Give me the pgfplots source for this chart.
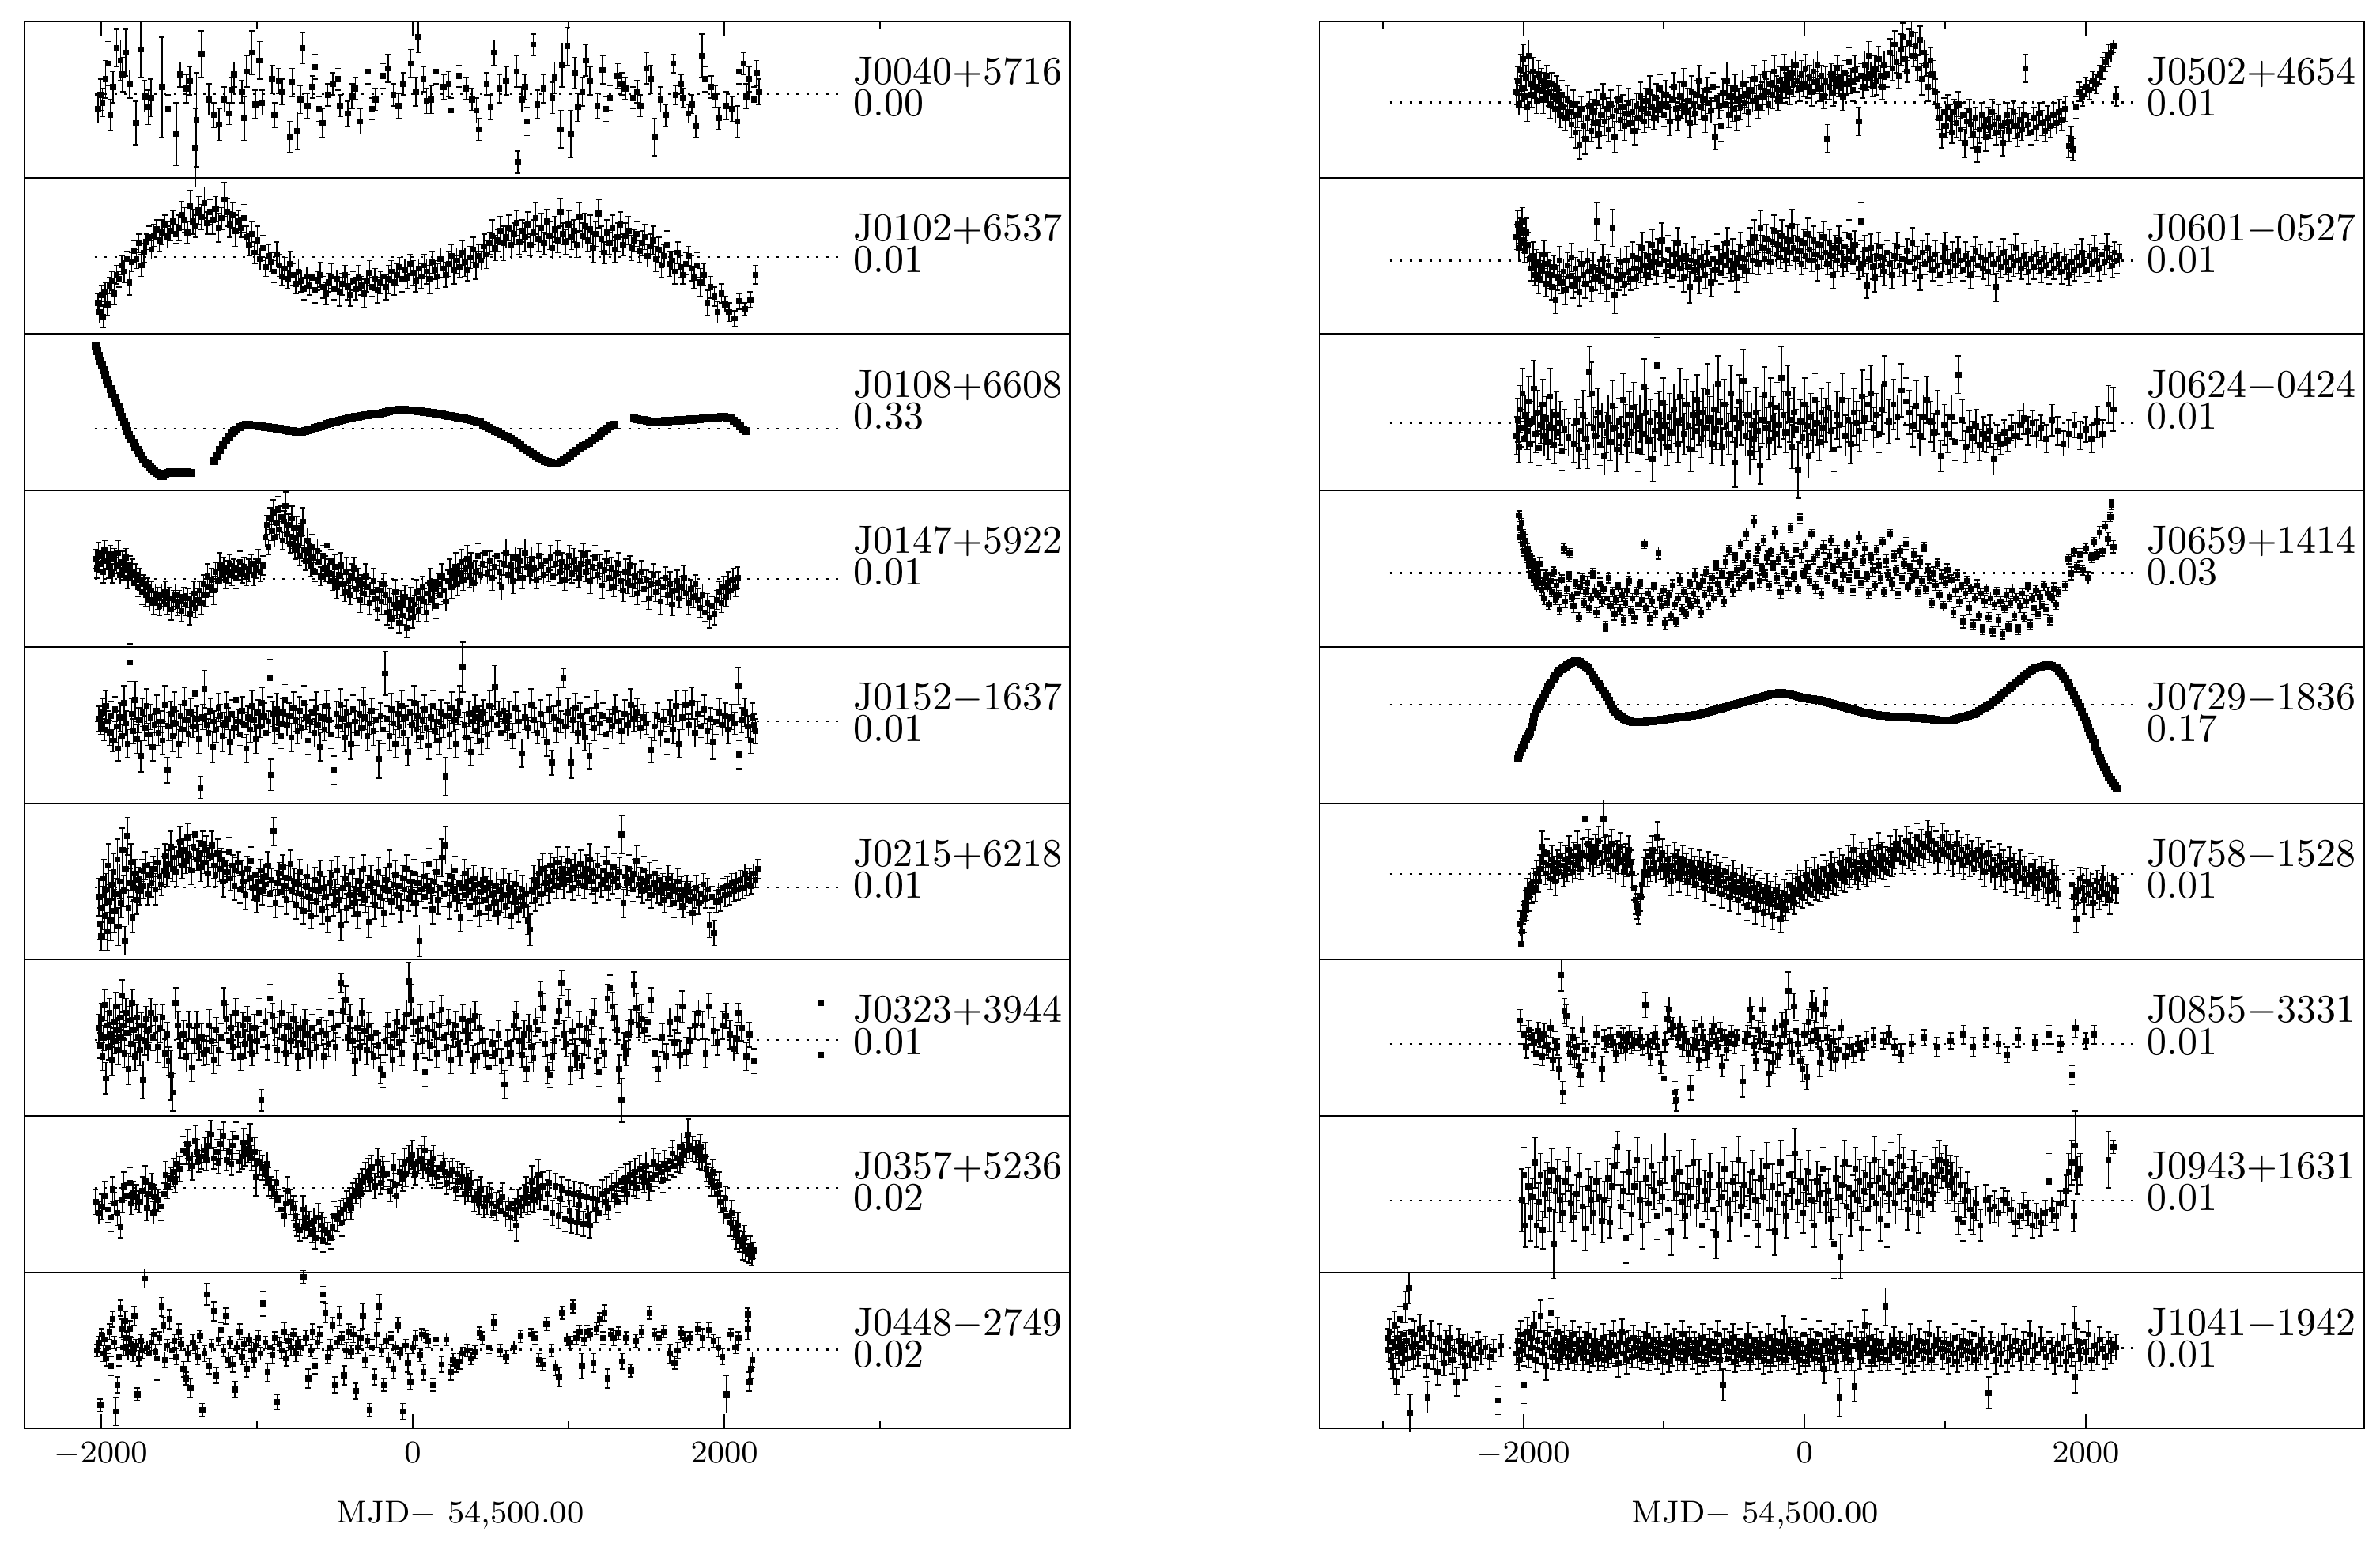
\documentclass[border=0pt]{standalone}
\usepackage{pgfplots}
\pgfplotsset{compat=1.18}
% one plot mark = error bar with caps + filled square (cheap on memory)
\newdimen\eblen
\pgfdeclareplotmark{eb}{%
  \pgfpathmoveto{\pgfqpoint{0pt}{-\eblen}}\pgfpathlineto{\pgfqpoint{0pt}{\eblen}}%
  \pgfpathmoveto{\pgfqpoint{-0.7pt}{-\eblen}}\pgfpathlineto{\pgfqpoint{0.7pt}{-\eblen}}%
  \pgfpathmoveto{\pgfqpoint{-0.7pt}{\eblen}}\pgfpathlineto{\pgfqpoint{0.7pt}{\eblen}}%
  \pgfusepathqstroke
  \pgfpathrectangle{\pgfqpoint{-0.75pt}{-0.75pt}}{\pgfqpoint{1.5pt}{1.5pt}}%
  \pgfusepathqfill}
\pgfplotsset{
  res/.style={scatter, only marks, mark=eb, black, line width=0.3pt,
    scatter/use mapped color={},
    visualization depends on=value \thisrow{e}\as\perr,
    scatter/@pre marker code/.append code={\pgfmathsetlength\eblen{0.3954pt*\perr}}},
  crv/.style={only marks, mark=square*, mark size=0.8pt, black},
  zero/.style={black, line width=0.45pt, dash pattern=on 0.6pt off 1.9pt, forget plot},
  pan/.style={width=264.3pt, height=39.54pt, scale only axis, anchor=north west,
    ymin=0, ymax=100, ytick=\empty, xtick={-2000,0,2000},
    axis line style={line width=0.4pt},
    major tick length=3.6pt, minor tick length=1.9pt,
    tick style={black, line width=0.4pt},
    tick label style={font=\fontsize{8.5}{8.5}\selectfont},
    x tick label style={/pgf/number format/.cd, 1000 sep={}},
    clip mode=individual},
  colL/.style={xmin=-2490, xmax=4213, minor xtick={-1000,1000,3000}},
  colR/.style={xmin=-3451, xmax=3980, minor xtick={-3000,-1000,1000}},
  rowT/.style={xtick pos=right, xticklabels={}},
  rowM/.style={xtick=\empty, minor xtick=\empty},
  rowB/.style={xtick pos=left},
}
\tikzset{lab/.style={font=\fontsize{10}{10}\selectfont, inner sep=0pt, anchor=base west}}
% panel names: name baseline at 59.7, scale value at 39.4 (percent of panel height)
\newcommand{\labL}[2]{\node[lab] at (axis cs:2822,59.7) {#1}; \node[lab] at (axis cs:2822,39.4) {#2};}
\newcommand{\labR}[2]{\node[lab] at (axis cs:2430,59.7) {#1}; \node[lab] at (axis cs:2430,39.4) {#2};}
\newcommand{\mjd}{\node[font=\fontsize{8}{8}\selectfont, anchor=base, yshift=-23.8pt] at (rel axis cs:0.417,0) {MJD$-$ 54,500.00};}
\begin{document}
\begin{tikzpicture}
\path[use as bounding box] (-6.2pt,5.4pt) rectangle (595.8pt,-385.66pt);
%% ---------------- row 1 ----------------
\begin{axis}[pan, colL, rowT, at={(0pt,0pt)}]
\addplot[zero] coordinates {(-2040,53.5) (2756,53.5)};
\addplot[res] table[row sep=\\] {x y e\\
-2019 44 9\\ -2003 53 10\\ -1970 63 12\\ -1954 73 14\\ -1922 58 10\\ -1899 83 12\\ -1873 75 13\\ -1841 80 15\\ -1815 60 9\\ -1776 35 14\\
-1744 82 18\\ -1695 45 11\\ -1679 51 12\\ -1608 58 32\\ -1517 28 20\\ -1491 66 8\\ -1452 57 9\\ -1394 19 25\\ -1388 37 30\\ -1355 79 15\\
-1307 50 10\\ -1274 40 8\\ -1242 34 10\\ -1210 50 8\\ -1177 41 7\\ -1145 66 8\\ -1096 55 7\\ -1080 38 14\\ -1064 68 10\\ -1031 80 14\\
-983 75 12\\ -967 48 8\\ -902 63 9\\ -886 40 8\\ -837 55 8\\ -789 26 10\\ -773 61 9\\ -740 30 12\\ -708 83 10\\ -675 46 8\\
-643 58 7\\ -627 71 8\\ -578 35 9\\ -546 53 7\\ -513 60 7\\ -465 46 7\\ -416 41 8\\ -368 57 7\\ -336 36 8\\ -287 68 8\\
-238 50 7\\ -190 65 8\\ -157 70 9\\ -125 53 7\\ -60 60 7\\ -12 73 9\\ 37 90 10\\ 69 63 8\\ 118 50 9\\ 150 68 8\\
199 58 8\\ 247 43 8\\ 296 65 7\\ 344 57 7\\ 409 43 8\\ 425 31 7\\ 474 60 7\\ 522 80 8\\ 555 57 9\\ 668 68 10\\
674 10 7\\ 700 50 8\\ 733 36 9\\ 775 85 7\\ 840 57 9\\ 895 51 10\\ 950 31 12\\ 959 72 14\\ 992 84 12\\ 1014 28 15\\
1040 67 10\\ 1089 55 9\\ 1137 62 9\\ 1186 46 8\\ 1218 69 9\\ 1267 51 8\\ 1315 65 8\\ 1364 57 7\\ 1412 51 7\\ 1461 46 7\\
1500 70 10\\ 1526 63 9\\ 1552 26 12\\ 1591 50 8\\ 1623 40 7\\ 1671 73 6\\ 1688 53 6\\ 1736 51 6\\ 1769 41 6\\ 1817 33 7\\
1856 78 14\\ 1875 63 8\\ 1914 58 7\\ 1963 38 7\\ 2011 46 9\\ 2083 36 10\\ 2092 68 8\\ 2124 73 7\\ 2157 63 8\\ 2189 50 8\\
2206 67 8\\ 2222 55 8\\
-1990 48 9\\ -1940 40 10\\ -1860 66 11\\ -1720 52 10\\ -1570 44 9\\ -1430 62 9\\ -1160 56 8\\ -1010 47 9\\ -860 62 8\\ -720 50 9\\
-600 44 8\\ -480 63 7\\ -390 52 8\\ -260 44 7\\ -90 46 8\\ 20 55 9\\ 90 49 8\\ 230 60 8\\ 380 50 7\\ 500 45 8\\
600 62 9\\ 720 58 8\\ 800 47 9\\ 910 64 10\\ 1060 45 9\\ 1110 75 10\\ 1240 44 8\\ 1340 60 7\\ 1440 55 7\\ 1720 60 6\\
1790 47 6\\ 1940 52 7\\ 2050 44 8\\ 2140 52 8\\
};
\labL{J0040+5716}{0.00}
\end{axis}
\begin{axis}[pan, colR, rowT, at={(327.5pt,0pt)}]
\addplot[zero] coordinates {(-2950,48.1) (2343,48.1)};
\addplot[res] table[row sep=\\] {x y e\\
-2048 55 8\\ -2040 62 9\\ -2030 47 7\\ -2020 69 10\\ -2012 57 8\\ -2002 76 9\\ -1992 52 7\\ -1982 64 8\\ -1972 45 9\\ -1961 78 10\\
-1950 60 7\\ -1940 53 8\\ -1930 68 9\\ -1918 58 7\\ -1906 49 8\\ -1894 66 9\\ -1882 56 7\\ -1870 62 8\\ -1858 50 9\\ -1846 59 8\\
-1834 65 7\\ -1822 54 8\\ -1810 47 9\\ -1798 60 7\\ -1786 52 8\\ -1774 44 9\\ -1762 57 8\\ -1750 49 7\\ -1738 40 8\\ -1726 53 9\\
-1714 45 7\\ -1700 38 8\\ -1686 50 9\\ -1672 42 7\\ -1658 34 8\\ -1644 47 9\\ -1630 29 10\\ -1616 40 8\\ -1602 21 9\\ -1588 44 8\\
-1574 33 7\\ -1560 25 10\\ -1546 38 8\\ -1532 46 9\\ -1518 30 7\\ -1504 42 8\\ -1490 35 9\\ -1476 48 8\\ -1462 28 9\\ -1448 40 7\\
-1434 52 8\\ -1420 36 9\\ -1406 44 7\\ -1392 31 8\\ -1378 47 9\\ -1364 39 7\\ -1350 26 10\\ -1336 43 8\\ -1322 50 9\\ -1308 37 7\\
-1294 45 8\\ -1280 33 9\\ -1266 41 8\\ -1252 48 9\\ -1238 35 7\\ -1224 42 8\\ -1210 30 9\\ -1196 46 8\\ -1182 38 7\\ -1168 52 9\\
-1154 44 8\\ -1140 36 7\\ -1126 49 8\\ -1112 41 9\\ -1098 55 10\\ -1084 45 8\\ -1070 38 7\\ -1056 51 9\\ -1042 43 8\\ -1028 57 9\\
-1014 47 8\\ -1000 40 7\\ -986 53 9\\ -972 45 8\\ -958 36 9\\ -944 50 8\\ -930 58 9\\ -916 44 7\\ -902 38 8\\ -888 52 9\\
-874 46 8\\ -860 60 10\\ -846 42 7\\ -832 49 8\\ -818 35 9\\ -804 55 10\\ -790 47 8\\ -776 41 7\\ -762 53 9\\ -748 62 10\\
-734 45 8\\ -720 50 7\\ -706 38 9\\ -692 56 8\\ -678 48 7\\ -664 43 8\\ -650 58 9\\ -636 26 8\\ -622 51 7\\ -608 46 8\\
-594 33 10\\ -580 54 9\\ -566 47 7\\ -552 62 12\\ -538 40 8\\ -524 52 7\\ -510 44 8\\ -496 57 9\\ -482 38 8\\ -468 50 7\\
-454 45 8\\ -440 60 9\\ -426 48 7\\ -412 53 8\\ -398 42 9\\ -384 56 8\\ -370 49 7\\ -356 63 9\\ -342 51 8\\ -328 45 7\\
-314 58 8\\ -300 52 9\\ -286 66 9\\ -272 55 8\\ -258 47 7\\ -244 60 8\\ -230 53 9\\ -216 68 10\\ -202 57 8\\ -188 50 7\\
-174 62 9\\ -160 56 8\\ -146 70 9\\ -132 59 8\\ -118 64 7\\ -104 55 8\\ -90 67 9\\ -76 60 8\\ -62 72 9\\ -48 62 7\\
-34 57 8\\ -20 66 9\\ -6 60 8\\ 8 70 9\\ 22 58 7\\ 36 64 8\\ 50 55 9\\ 64 68 8\\ 78 61 7\\ 92 72 9\\
106 57 8\\ 120 65 7\\ 134 52 8\\ 148 62 9\\ 162 25 9\\ 176 58 8\\ 190 66 7\\ 204 54 8\\ 218 63 9\\ 232 70 8\\
246 59 7\\ 260 64 8\\ 274 52 9\\ 288 67 8\\ 302 60 7\\ 316 74 9\\ 330 62 8\\ 344 56 7\\ 358 69 9\\ 372 63 8\\
386 36 9\\ 400 65 8\\ 414 58 7\\ 428 72 9\\ 442 64 8\\ 456 78 9\\ 470 66 8\\ 484 59 7\\ 498 70 8\\ 512 62 9\\
526 76 8\\ 540 65 7\\ 554 58 8\\ 568 72 9\\ 586 66 8\\ 610 80 9\\ 625 70 8\\ 640 85 9\\ 655 74 7\\ 670 65 8\\
685 82 10\\ 700 90 9\\ 715 76 8\\ 730 68 7\\ 745 86 9\\ 760 92 8\\ 775 78 7\\ 790 84 9\\ 805 70 8\\ 820 88 9\\
835 63 10\\ 850 80 8\\ 865 72 7\\ 880 58 9\\ 895 75 8\\ 910 66 9\\ 928 55 8\\ 945 46 9\\ 960 38 7\\ 976 27 8\\
990 42 9\\ 1005 33 7\\ 1020 45 8\\ 1035 38 9\\ 1050 29 7\\ 1065 42 8\\ 1080 35 9\\ 1095 47 8\\ 1110 31 7\\ 1125 40 8\\
1140 22 9\\ 1155 36 8\\ 1170 43 7\\ 1185 34 8\\ 1200 28 9\\ 1215 38 7\\ 1230 18 8\\ 1245 31 9\\ 1260 40 8\\ 1275 33 7\\
1290 26 9\\ 1305 37 8\\ 1320 32 7\\ 1335 42 8\\ 1350 34 7\\ 1365 29 8\\ 1380 38 9\\ 1395 33 7\\ 1410 22 8\\ 1425 35 7\\
1440 40 8\\ 1455 30 7\\ 1470 36 8\\ 1485 42 7\\ 1500 33 8\\ 1515 27 7\\ 1530 37 8\\ 1545 31 7\\ 1560 40 8\\ 1571 70 9\\
1590 34 7\\ 1610 29 8\\ 1630 38 7\\ 1650 32 8\\ 1670 41 7\\ 1690 35 8\\ 1710 30 7\\ 1730 38 8\\ 1750 33 7\\ 1770 40 8\\
1790 35 7\\ 1810 42 8\\ 1830 37 7\\ 1855 44 8\\ 1880 20 7\\ 1895 25 8\\ 1910 18 7\\ 1930 45 7\\ 1952 55 6\\ 1975 52 6\\
2000 58 6\\ 2025 56 6\\ 2050 62 6\\ 2075 60 6\\ 2100 66 6\\ 2120 70 7\\ 2140 74 6\\ 2160 78 7\\ 2180 80 6\\ 2196 84 4\\
2215 52 6\\
};
\labR{J0502+4654}{0.01}
\end{axis}
%% ---------------- row 2 ----------------
\begin{axis}[pan, colL, rowM, at={(0pt,-39.54pt)}]
\addplot[zero] coordinates {(-2040,49.3) (2756,49.3)};
\addplot[res] table[row sep=\\] {x y e\\
-2019 20 6\\ -2008 14 7\\ -1996 25 6\\ -1985 11 7\\ -1972 27 6\\ -1958 19 7\\ -1944 31 5\\ -1930 34 6\\ -1915 26 7\\ -1900 38 6\\
-1884 35 5\\ -1866 44 6\\ -1850 40 7\\ -1833 48 5\\ -1818 33 8\\ -1802 46 6\\ -1788 53 7\\ -1772 48 6\\ -1756 58 6\\ -1740 44 7\\
-1724 52 6\\ -1708 59 5\\ -1692 62 7\\ -1676 54 6\\ -1660 63 7\\ -1642 67 6\\ -1625 60 7\\ -1608 65 8\\ -1590 70 6\\ -1572 62 7\\
-1555 66 6\\ -1537 72 7\\ -1518 64 6\\ -1500 68 8\\ -1482 76 9\\ -1464 73 8\\ -1446 65 7\\ -1428 82 10\\ -1410 72 8\\ -1392 69 7\\
-1374 79 9\\ -1355 75 8\\ -1336 84 10\\ -1318 71 7\\ -1300 78 8\\ -1282 73 9\\ -1263 80 8\\ -1245 68 9\\ -1226 74 7\\ -1208 86 11\\
-1190 78 9\\ -1172 70 8\\ -1155 76 8\\ -1137 66 10\\ -1118 72 7\\ -1100 68 6\\ -1083 74 9\\ -1066 62 7\\ -1049 57 7\\ -1031 64 8\\
-1013 52 7\\ -996 60 9\\ -978 48 7\\ -960 55 8\\ -942 43 6\\ -925 50 7\\ -907 46 6\\ -890 40 7\\ -872 51 8\\ -855 44 7\\
-837 37 6\\ -820 42 7\\ -802 35 6\\ -785 45 8\\ -767 38 7\\ -750 32 6\\ -732 40 8\\ -715 34 7\\ -697 29 7\\ -680 37 6\\
-662 31 6\\ -645 36 7\\ -627 28 8\\ -610 34 6\\ -592 38 8\\ -575 30 7\\ -557 26 7\\ -540 33 6\\ -522 37 8\\ -505 29 7\\
-487 35 6\\ -470 27 9\\ -452 32 7\\ -435 38 6\\ -417 30 8\\ -400 25 7\\ -382 34 6\\ -365 29 7\\ -347 36 8\\ -330 31 6\\
-312 26 9\\ -295 34 7\\ -277 39 8\\ -260 30 6\\ -242 35 7\\ -225 28 8\\ -207 33 7\\ -190 37 6\\ -172 30 8\\ -155 35 9\\
-137 40 7\\ -120 33 8\\ -102 38 7\\ -85 43 6\\ -67 35 8\\ -50 41 7\\ -32 36 7\\ -15 45 6\\ 3 39 8\\ 20 34 7\\
38 42 6\\ 55 37 8\\ 73 44 7\\ 90 40 8\\ 108 35 9\\ 125 46 7\\ 143 41 6\\ 160 37 8\\ 178 48 7\\ 195 42 6\\
213 38 8\\ 230 45 8\\ 248 50 7\\ 265 41 9\\ 283 47 8\\ 300 43 7\\ 318 52 8\\ 335 46 9\\ 353 41 7\\ 370 49 7\\
388 54 8\\ 405 44 9\\ 423 50 7\\ 440 47 6\\ 458 56 8\\ 475 51 9\\ 493 58 7\\ 510 63 10\\ 528 55 8\\ 545 60 7\\
563 66 9\\ 580 58 11\\ 598 62 7\\ 615 68 8\\ 633 57 9\\ 650 64 7\\ 668 71 8\\ 685 59 8\\ 703 66 7\\ 720 62 9\\
738 70 8\\ 755 57 7\\ 773 65 8\\ 790 74 10\\ 808 61 8\\ 825 68 9\\ 843 58 7\\ 860 72 8\\ 878 63 9\\ 895 55 7\\
913 67 8\\ 930 60 8\\ 948 78 9\\ 965 64 7\\ 983 59 8\\ 1000 70 9\\ 1018 62 8\\ 1035 66 7\\ 1053 57 8\\ 1070 75 9\\
1088 63 8\\ 1105 69 8\\ 1123 60 7\\ 1140 67 9\\ 1158 55 9\\ 1175 64 8\\ 1193 77 9\\ 1210 61 8\\ 1228 52 7\\ 1245 65 8\\
1263 58 7\\ 1280 68 8\\ 1298 54 8\\ 1315 62 9\\ 1333 70 8\\ 1350 57 7\\ 1368 63 8\\ 1385 66 9\\ 1403 55 8\\ 1420 60 7\\
1438 64 8\\ 1455 53 7\\ 1473 58 8\\ 1490 62 8\\ 1508 50 7\\ 1525 56 8\\ 1543 60 9\\ 1560 48 8\\ 1578 54 8\\ 1595 44 8\\
1613 50 7\\ 1630 57 9\\ 1648 45 8\\ 1665 47 6\\ 1683 40 8\\ 1700 52 7\\ 1718 43 7\\ 1735 38 6\\ 1753 45 7\\ 1770 50 6\\
1788 42 8\\ 1805 36 7\\ 1825 44 8\\ 1845 33 9\\ 1866 38 7\\ 1890 20 8\\ 1910 30 7\\ 1935 24 6\\ 1955 14 7\\ 1980 26 6\\
2005 19 5\\ 2030 14 6\\ 2065 10 5\\ 2095 21 5\\ 2130 16 4\\ 2165 22 5\\ 2200 38 6\\
};
\labL{J0102+6537}{0.01}
\end{axis}
\begin{axis}[pan, colR, rowM, at={(327.5pt,-39.54pt)}]
\addplot[zero] coordinates {(-2950,47) (2343,47)};
\addplot[res] table[row sep=\\] {x y e\\
-2048 62 8\\ -2040 70 9\\ -2032 55 7\\ -2024 66 8\\ -2016 58 10\\ -2008 72 9\\ -2000 60 8\\ -1990 53 7\\ -1980 65 9\\ -1968 57 8\\
-1955 48 7\\ -1942 42 8\\ -1930 50 9\\ -1918 38 7\\ -1905 46 8\\ -1892 35 9\\ -1880 44 8\\ -1866 40 7\\ -1852 51 9\\ -1840 32 8\\
-1826 45 7\\ -1812 38 9\\ -1798 30 8\\ -1784 43 7\\ -1770 22 9\\ -1756 36 8\\ -1742 47 9\\ -1728 33 7\\ -1714 40 8\\ -1700 28 9\\
-1686 44 8\\ -1672 37 7\\ -1658 49 9\\ -1644 31 8\\ -1630 42 7\\ -1616 35 8\\ -1602 27 9\\ -1588 45 8\\ -1574 38 7\\ -1560 32 9\\
-1546 47 8\\ -1532 40 7\\ -1518 29 8\\ -1504 43 9\\ -1490 36 8\\ -1476 72 12\\ -1462 41 7\\ -1448 34 8\\ -1434 48 9\\ -1420 39 8\\
-1406 30 9\\ -1392 44 7\\ -1378 37 8\\ -1364 68 12\\ -1350 25 12\\ -1336 41 8\\ -1322 35 7\\ -1308 46 9\\ -1294 38 8\\ -1280 32 7\\
-1266 47 9\\ -1252 40 8\\ -1238 35 7\\ -1224 50 9\\ -1210 42 8\\ -1196 36 7\\ -1182 48 9\\ -1168 41 8\\ -1154 55 10\\ -1140 44 8\\
-1126 38 7\\ -1112 50 9\\ -1098 43 8\\ -1084 57 10\\ -1070 46 8\\ -1056 39 7\\ -1042 52 9\\ -1028 45 8\\ -1014 60 11\\ -1000 47 8\\
-986 40 7\\ -972 54 9\\ -958 44 8\\ -944 37 7\\ -930 51 9\\ -916 45 8\\ -902 58 10\\ -888 42 8\\ -874 48 7\\ -860 36 9\\
-846 50 8\\ -832 43 7\\ -818 30 10\\ -804 47 8\\ -790 53 9\\ -776 41 7\\ -762 46 8\\ -748 35 9\\ -734 49 8\\ -720 44 7\\
-706 38 9\\ -692 52 8\\ -678 45 7\\ -664 33 9\\ -650 48 8\\ -636 41 7\\ -622 55 9\\ -608 46 8\\ -594 39 7\\ -580 50 9\\
-566 44 8\\ -552 58 10\\ -538 47 8\\ -524 41 7\\ -510 52 9\\ -496 45 8\\ -482 36 9\\ -468 49 8\\ -454 56 9\\ -440 43 7\\
-426 48 8\\ -412 40 7\\ -398 51 9\\ -384 58 10\\ -370 47 8\\ -356 62 11\\ -342 52 8\\ -328 45 7\\ -314 68 11\\ -300 55 8\\
-286 48 7\\ -272 61 9\\ -258 53 8\\ -244 46 7\\ -230 59 9\\ -216 66 10\\ -202 51 8\\ -188 57 9\\ -174 49 7\\ -160 63 10\\
-146 54 8\\ -132 47 7\\ -118 60 9\\ -104 52 8\\ -90 69 11\\ -76 55 8\\ -62 48 7\\ -48 61 9\\ -34 53 8\\ -20 45 7\\
-6 58 9\\ 8 50 8\\ 22 64 10\\ 36 54 8\\ 50 47 7\\ 64 60 9\\ 78 51 8\\ 92 43 9\\ 106 57 8\\ 120 49 7\\
134 62 10\\ 148 52 8\\ 162 45 7\\ 176 58 9\\ 190 50 8\\ 204 38 9\\ 218 55 8\\ 232 47 7\\ 246 60 9\\ 260 52 8\\
274 44 7\\ 288 56 9\\ 302 48 8\\ 316 63 10\\ 330 53 8\\ 344 46 7\\ 358 57 9\\ 372 49 8\\ 386 42 7\\ 400 72 12\\
414 45 8\\ 428 54 9\\ 442 31 8\\ 456 48 7\\ 470 55 9\\ 484 43 8\\ 498 36 9\\ 512 50 8\\ 526 56 9\\ 540 44 7\\
554 49 8\\ 568 40 9\\ 586 52 8\\ 604 45 7\\ 622 38 9\\ 640 50 8\\ 658 56 9\\ 676 44 7\\ 694 48 8\\ 712 40 9\\
730 53 8\\ 748 46 7\\ 766 58 10\\ 784 42 8\\ 802 49 7\\ 820 37 9\\ 838 52 8\\ 856 45 7\\ 874 55 9\\ 892 48 8\\
910 41 7\\ 928 51 9\\ 946 44 8\\ 964 38 7\\ 982 49 9\\ 1000 55 10\\ 1018 46 8\\ 1036 40 7\\ 1054 50 9\\ 1072 44 8\\
1090 53 9\\ 1108 47 8\\ 1126 41 7\\ 1144 50 9\\ 1162 45 8\\ 1180 38 9\\ 1198 48 8\\ 1216 53 9\\ 1234 44 7\\ 1252 49 8\\
1270 42 7\\ 1288 47 8\\ 1306 40 9\\ 1324 51 8\\ 1342 45 7\\ 1360 30 9\\ 1378 48 8\\ 1396 43 7\\ 1414 52 9\\ 1432 46 8\\
1450 41 7\\ 1468 49 8\\ 1486 44 7\\ 1504 55 9\\ 1522 47 8\\ 1540 42 7\\ 1558 50 8\\ 1576 45 7\\ 1594 40 8\\ 1612 48 7\\
1630 43 8\\ 1648 51 9\\ 1666 46 7\\ 1684 41 8\\ 1702 49 7\\ 1720 44 8\\ 1738 39 7\\ 1756 47 8\\ 1774 42 7\\ 1792 50 8\\
1810 45 7\\ 1828 40 8\\ 1846 48 7\\ 1864 43 8\\ 1882 38 7\\ 1900 46 8\\ 1918 41 7\\ 1936 49 8\\ 1954 44 7\\ 1972 52 9\\
1990 46 7\\ 2008 41 8\\ 2026 50 7\\ 2044 45 8\\ 2062 54 9\\ 2080 47 7\\ 2098 42 8\\ 2116 51 7\\ 2134 46 8\\ 2152 55 9\\
2170 49 7\\ 2188 44 8\\ 2206 52 7\\ 2224 47 8\\ 2240 50 7\\
};
\labR{J0601$-$0527}{0.01}
\end{axis}
%% ---------------- row 3 ----------------
\begin{axis}[pan, colL, rowM, at={(0pt,-79.08pt)}]
\addplot[zero] coordinates {(-2040,39.5) (2756,39.5)};
\addplot[crv] table[row sep=\\] {x y\\
-2035 92\\ -2025 89\\ -2015 86\\ -2005 83\\ -1995 80\\ -1985 77\\ -1975 74\\ -1962 71\\ -1950 68\\ -1938 65\\
-1925 62\\ -1912 59\\ -1900 56\\ -1888 53\\ -1876 50\\ -1865 47\\ -1853 44\\ -1842 41\\ -1830 38\\ -1818 35.5\\
-1805 33\\ -1792 30.5\\ -1780 28\\ -1767 26\\ -1754 24\\ -1740 22\\ -1727 20\\ -1713 18\\ -1700 16.5\\ -1686 15\\
-1672 13.5\\ -1658 12\\ -1644 11\\ -1630 10\\ -1615 9.3\\ -1600 9\\ -1585 10.5\\ -1570 11\\ -1555 11.5\\ -1540 11\\
-1525 11.5\\ -1510 11\\ -1495 11.5\\ -1480 11\\ -1465 11\\ -1450 11.5\\ -1435 11\\ -1420 11\\
-1274 19\\ -1255 22\\ -1235 26\\ -1215 29\\ -1195 32\\ -1177 34\\ -1160 36.5\\ -1145 38\\ -1129 39\\ -1110 40.5\\
-1090 41.5\\ -1070 42\\ -1050 42\\ -1030 41.5\\ -1010 41.5\\ -990 41\\ -970 41\\ -950 40.5\\ -930 40.5\\ -910 40\\
-890 40\\ -870 39.5\\ -850 39.5\\ -830 39\\ -810 38.5\\ -790 38\\ -770 38\\ -750 37.5\\ -730 37.5\\ -710 37.5\\
-690 38\\ -670 38.5\\ -650 39\\ -630 40\\ -610 40.5\\ -590 41\\ -570 41.5\\ -550 42.5\\ -530 43\\ -510 43.5\\
-490 44\\ -470 44.5\\ -450 45\\ -430 45.5\\ -410 46\\ -390 46.5\\ -370 47\\ -350 47\\ -330 47.5\\ -310 48\\
-290 48\\ -270 48.5\\ -250 48.5\\ -230 49\\ -210 49\\ -190 49.5\\ -170 50\\ -150 50.5\\ -130 51\\ -110 51\\
-90 51.5\\ -70 51.5\\ -50 51.5\\ -30 51\\ -10 51\\ 10 51\\ 30 50.5\\ 50 50.5\\ 70 50\\ 90 50\\
110 49.5\\ 130 49.5\\ 150 49\\ 170 49\\ 190 48.5\\ 210 48\\ 230 47.5\\ 250 47.5\\ 270 47\\ 290 46.5\\
310 46\\ 330 46\\ 350 45.5\\ 370 45\\ 390 44.5\\ 410 44\\ 430 43.5\\ 450 42\\ 470 41\\ 490 40\\
510 39\\ 530 38\\ 550 37.5\\ 570 36\\ 590 35\\ 610 34\\ 630 33\\ 650 32\\ 670 30.5\\ 690 29\\
710 27.5\\ 730 26\\ 750 25\\ 770 23.5\\ 790 22\\ 810 21\\ 830 20\\ 850 19\\ 870 18.5\\ 890 18\\
910 17.5\\ 930 17.5\\ 950 18.5\\ 970 19.5\\ 990 21\\ 1010 22.5\\ 1030 24\\ 1050 25.5\\ 1070 27\\ 1090 28.5\\
1110 29.5\\ 1130 30.5\\ 1150 32\\ 1170 33.5\\ 1190 35\\ 1210 36.5\\ 1230 38\\ 1250 39.5\\ 1270 41\\ 1290 42\\
1420 46\\ 1440 45.5\\ 1460 45\\ 1480 45\\ 1500 44.5\\ 1520 44\\ 1540 44\\ 1560 43.5\\ 1580 44\\ 1600 44\\
1620 44.5\\ 1640 44\\ 1660 44.5\\ 1680 44.5\\ 1700 45\\ 1720 44.5\\ 1740 45\\ 1760 45\\ 1780 45.5\\ 1800 45\\
1820 45.5\\ 1840 45.5\\ 1860 46\\ 1880 46\\ 1900 46\\ 1920 46.5\\ 1940 46.5\\ 1960 46.5\\ 1980 47\\ 2000 47\\
2020 46.5\\ 2040 46\\ 2060 44.5\\ 2080 43\\ 2100 41\\ 2120 39\\ 2135 38\\
};
\labL{J0108+6608}{0.33}
\end{axis}
\begin{axis}[pan, colR, rowM, at={(327.5pt,-79.08pt)}]
\addplot[zero] coordinates {(-2950,43) (2343,43)};
\addplot[res] table[row sep=\\] {x y e\\
-2048 35 12\\ -2040 45 14\\ -2032 28 10\\ -2024 52 15\\ -2016 40 12\\ -2006 62 16\\ -1996 33 11\\ -1986 48 13\\ -1975 38 12\\ -1963 57 16\\
-1950 30 12\\ -1938 44 13\\ -1925 65 18\\ -1912 36 12\\ -1900 50 14\\ -1887 27 11\\ -1875 42 12\\ -1862 55 16\\ -1850 35 13\\ -1836 46 14\\
-1822 31 11\\ -1808 60 18\\ -1794 40 12\\ -1780 29 12\\ -1766 48 15\\ -1752 37 13\\ -1738 43 14\\ -1724 25 12\\ -1708 39 13\\ -1680 34 12\\
-1640 30 12\\ -1620 44 14\\ -1605 26 12\\ -1590 38 15\\ -1575 48 16\\ -1560 33 13\\ -1545 28 14\\ -1530 76 16\\ -1515 62 20\\ -1500 40 13\\
-1485 35 12\\ -1470 50 15\\ -1455 29 13\\ -1440 42 14\\ -1425 22 12\\ -1410 37 13\\ -1395 46 15\\ -1380 31 12\\ -1365 54 16\\ -1350 40 13\\
-1335 26 14\\ -1320 44 15\\ -1305 35 12\\ -1290 58 17\\ -1275 42 13\\ -1260 30 12\\ -1245 48 15\\ -1230 37 13\\ -1215 53 16\\ -1200 41 14\\
-1185 25 13\\ -1170 46 15\\ -1155 36 13\\ -1140 66 18\\ -1125 50 15\\ -1110 32 12\\ -1095 44 14\\ -1080 20 14\\ -1065 38 13\\ -1050 80 18\\
-1035 48 15\\ -1020 34 12\\ -1005 56 16\\ -990 42 13\\ -975 28 12\\ -960 47 15\\ -945 37 13\\ -930 52 16\\ -915 44 14\\ -900 30 12\\
-885 60 18\\ -870 45 14\\ -855 36 13\\ -840 55 16\\ -825 41 13\\ -810 26 14\\ -795 48 15\\ -780 38 13\\ -765 58 16\\ -750 43 14\\
-735 33 12\\ -720 50 15\\ -705 40 13\\ -690 63 18\\ -675 46 14\\ -660 30 13\\ -645 52 16\\ -630 39 13\\ -615 68 18\\ -600 44 14\\
-585 28 12\\ -570 55 16\\ -555 41 14\\ -540 36 13\\ -525 62 18\\ -510 46 15\\ -495 18 16\\ -480 40 13\\ -465 57 17\\ -450 43 14\\
-435 70 20\\ -420 35 13\\ -405 48 15\\ -390 24 14\\ -375 42 14\\ -360 33 13\\ -345 50 16\\ -330 38 13\\ -315 16 12\\ -300 45 15\\
-285 61 18\\ -270 40 13\\ -255 32 12\\ -240 55 17\\ -225 46 14\\ -210 36 13\\ -195 53 16\\ -180 42 14\\ -165 72 20\\ -150 48 15\\
-135 37 13\\ -120 62 18\\ -105 45 14\\ -90 28 14\\ -75 50 16\\ -60 39 13\\ -45 13 18\\ -30 44 14\\ -15 34 12\\ 0 55 17\\
15 41 13\\ 30 22 14\\ 45 47 15\\ 60 37 13\\ 75 58 17\\ 90 43 14\\ 105 31 12\\ 120 50 15\\ 135 40 13\\ 150 45 14\\
170 53 16\\ 190 38 13\\ 210 26 14\\ 230 48 15\\ 250 42 14\\ 270 58 17\\ 290 35 13\\ 310 45 14\\ 330 30 13\\ 350 50 15\\
370 43 14\\ 390 38 13\\ 410 60 17\\ 430 46 14\\ 450 55 16\\ 470 62 18\\ 490 40 13\\ 510 48 14\\ 530 36 12\\ 550 52 16\\
570 68 18\\ 600 44 14\\ 630 55 16\\ 660 47 14\\ 690 64 17\\ 720 57 15\\ 745 50 14\\ 770 41 13\\ 795 54 16\\ 820 35 13\\
845 47 14\\ 870 58 15\\ 895 44 13\\ 920 37 12\\ 945 50 14\\ 970 22 10\\ 995 42 13\\ 1020 36 12\\ 1045 47 14\\ 1070 31 12\\
1095 74 12\\ 1120 45 13\\ 1145 28 10\\ 1170 39 12\\ 1195 34 10\\ 1220 41 11\\ 1245 29 10\\ 1270 36 11\\ 1295 33 9\\ 1320 38 10\\
1345 20 10\\ 1370 34 8\\ 1395 30 7\\ 1420 37 8\\ 1445 32 7\\ 1470 40 8\\ 1500 35 8\\ 1530 42 9\\ 1560 46 10\\ 1590 38 9\\
1620 43 8\\ 1650 36 9\\ 1680 40 8\\ 1720 33 9\\ 1760 45 10\\ 1800 38 9\\ 1840 30 8\\ 1880 36 9\\ 1920 42 8\\ 1960 35 9\\
2000 39 8\\ 2040 33 9\\ 2080 44 10\\ 2120 36 9\\ 2160 55 12\\ 2196 52 14\\
};
\labR{J0624$-$0424}{0.01}
\end{axis}
%% ---------------- row 4 ----------------
\begin{axis}[pan, colL, rowM, at={(0pt,-118.62pt)}]
\addplot[zero] coordinates {(-2040,43.4) (2756,43.4)};
\addplot[res] table[row sep=\\] {x y e\\
-2035 56 6\\ -2025 50 6\\ -2015 60 7\\ -2005 53 5\\ -1995 58 6\\ -1985 48 7\\ -1975 62 6\\ -1963 55 5\\ -1950 51 7\\ -1938 59 6\\
-1926 47 6\\ -1914 56 7\\ -1900 52 5\\ -1888 60 8\\ -1876 46 6\\ -1864 54 7\\ -1852 49 6\\ -1840 57 6\\ -1826 44 7\\ -1812 52 6\\
-1800 48 8\\ -1788 41 6\\ -1775 46 7\\ -1762 38 6\\ -1750 43 7\\ -1738 35 8\\ -1725 40 6\\ -1712 33 7\\ -1700 38 6\\ -1688 30 7\\
-1675 36 6\\ -1662 28 7\\ -1650 34 6\\ -1637 31 7\\ -1624 26 6\\ -1612 33 7\\ -1600 29 6\\ -1587 35 7\\ -1574 27 6\\ -1561 31 7\\
-1548 24 7\\ -1535 30 6\\ -1522 33 7\\ -1509 26 6\\ -1496 29 7\\ -1483 23 7\\ -1470 32 6\\ -1457 27 7\\ -1444 31 6\\ -1431 21 7\\
-1418 28 6\\ -1405 34 8\\ -1392 25 6\\ -1380 30 7\\ -1367 36 6\\ -1354 28 7\\ -1341 40 6\\ -1328 33 7\\ -1315 45 8\\ -1302 38 6\\
-1290 43 7\\ -1277 36 9\\ -1264 48 6\\ -1251 42 7\\ -1238 52 8\\ -1225 46 6\\ -1212 50 7\\ -1199 43 6\\ -1186 48 7\\ -1173 53 6\\
-1160 46 7\\ -1147 50 6\\ -1134 44 7\\ -1120 49 6\\ -1107 54 7\\ -1094 47 6\\ -1080 51 6\\ -1065 45 6\\ -1050 49 7\\ -1035 53 6\\
-1020 46 7\\ -1005 50 6\\ -990 55 7\\ -975 48 6\\ -960 52 6\\
-945 70 6\\ -935 78 6\\ -925 64 5\\ -915 82 7\\ -905 74 6\\ -895 86 8\\ -885 70 6\\ -875 79 7\\ -865 88 8\\ -855 75 6\\
-845 83 7\\ -835 68 6\\ -825 80 7\\ -815 90 9\\ -805 72 6\\ -795 78 7\\ -785 66 6\\ -775 82 8\\ -765 70 7\\ -755 62 6\\
-745 76 7\\ -735 65 8\\ -725 58 6\\ -715 72 7\\ -705 80 9\\ -695 62 7\\ -685 55 6\\ -675 68 8\\ -665 60 6\\ -655 52 7\\
-645 64 8\\ -635 57 7\\ -625 48 6\\ -612 61 8\\ -600 54 7\\ -588 45 6\\ -575 58 7\\ -562 50 8\\ -550 65 9\\ -537 47 6\\
-525 55 7\\ -512 42 6\\ -500 51 8\\ -487 38 7\\ -475 46 6\\ -462 52 8\\ -450 40 7\\ -437 35 6\\ -425 48 9\\ -412 42 7\\
-400 33 6\\ -387 45 8\\ -375 50 7\\ -362 37 6\\ -350 43 7\\ -337 30 8\\ -325 40 6\\ -312 34 7\\ -300 45 8\\ -287 38 6\\
-275 28 7\\ -262 35 6\\ -250 42 8\\ -237 31 7\\ -225 24 7\\ -212 36 6\\ -200 29 8\\ -187 40 7\\ -175 33 6\\ -162 22 8\\
-150 30 7\\ -137 18 6\\ -125 27 7\\ -112 35 8\\ -100 25 7\\ -87 15 6\\ -75 28 8\\ -62 20 6\\ -50 32 7\\ -37 12 6\\
-25 24 7\\ -12 30 8\\ 0 19 7\\ 13 27 6\\ 25 35 8\\ 38 23 7\\ 50 31 6\\ 63 38 7\\ 75 29 8\\ 88 22 6\\
100 34 7\\ 113 41 9\\ 125 30 7\\ 138 37 6\\ 150 26 8\\ 163 40 7\\ 175 33 6\\ 188 45 8\\ 200 36 7\\ 213 29 6\\
225 42 7\\ 238 48 8\\ 250 38 7\\ 263 44 6\\ 275 51 9\\ 288 40 7\\ 300 47 6\\ 313 54 8\\ 325 43 7\\ 338 50 6\\
350 56 9\\ 363 45 7\\ 375 52 8\\ 390 41 6\\ 405 48 7\\ 420 58 8\\ 435 46 6\\ 450 53 7\\ 465 60 9\\ 480 47 7\\
495 55 6\\ 510 44 8\\ 525 51 7\\ 540 58 6\\ 555 48 7\\ 570 38 8\\ 585 53 7\\ 600 60 9\\ 615 46 6\\ 630 52 7\\
645 42 8\\ 660 57 7\\ 675 49 6\\ 690 55 8\\ 705 44 7\\ 720 60 9\\ 735 51 6\\ 750 47 7\\ 765 56 8\\ 780 50 7\\
795 43 6\\ 810 58 8\\ 825 52 7\\ 840 46 6\\ 855 55 9\\ 870 49 7\\ 885 57 8\\ 900 45 6\\ 915 53 7\\ 930 60 8\\
945 48 7\\ 960 54 6\\ 975 43 7\\ 990 51 8\\ 1005 58 7\\ 1020 47 6\\ 1035 55 8\\ 1050 50 7\\ 1065 44 6\\ 1080 53 8\\
1095 59 7\\ 1110 48 6\\ 1125 54 7\\ 1140 42 8\\ 1155 51 7\\ 1170 57 8\\ 1185 46 6\\ 1200 52 7\\ 1215 39 8\\ 1230 49 7\\
1245 55 6\\ 1260 44 8\\ 1275 50 7\\ 1290 38 6\\ 1305 47 8\\ 1320 53 7\\ 1335 42 6\\ 1350 36 7\\ 1365 48 8\\ 1380 41 7\\
1395 52 6\\ 1410 39 7\\ 1425 45 8\\ 1440 34 7\\ 1455 42 6\\ 1470 48 7\\ 1485 37 8\\ 1500 43 6\\ 1515 31 7\\ 1530 40 8\\
1545 46 7\\ 1560 35 6\\ 1575 41 7\\ 1590 29 8\\ 1605 38 6\\ 1620 44 7\\ 1635 33 6\\ 1650 40 8\\ 1665 27 7\\ 1680 36 6\\
1695 42 7\\ 1710 31 6\\ 1725 38 7\\ 1740 44 8\\ 1755 34 6\\ 1770 28 7\\ 1785 37 6\\ 1800 32 7\\ 1815 40 6\\ 1830 30 7\\
1845 25 6\\ 1860 33 7\\ 1875 22 6\\ 1890 28 6\\ 1905 19 7\\ 1920 26 6\\ 1935 21 7\\ 1950 30 6\\ 1965 35 7\\ 1980 28 6\\
1995 38 7\\ 2010 32 6\\ 2025 41 7\\ 2040 36 6\\ 2055 43 7\\ 2070 38 6\\ 2085 44 7\\
};
\labL{J0147+5922}{0.01}
\end{axis}
\begin{axis}[pan, colR, rowM, at={(327.5pt,-118.62pt)}]
\addplot[zero] coordinates {(-2950,47.2) (2343,47.2)};
\addplot[res] table[row sep=\\] {x y e\\
-2030 84 3\\ -2024 76 4\\ -2019 70 3\\ -2012 79 3\\ -2006 66 4\\ -2000 72 3\\ -1993 61 3\\ -1986 68 4\\ -1979 57 3\\ -1970 63 3\\
-1962 52 4\\ -1953 58 3\\ -1944 47 3\\ -1936 55 3\\ -1925 43 4\\ -1913 50 3\\ -1904 38 3\\ -1896 45 3\\ -1885 53 4\\ -1872 36 3\\
-1863 41 3\\ -1850 31 4\\ -1841 46 3\\ -1829 38 3\\ -1818 27 3\\ -1806 42 4\\ -1797 35 3\\ -1785 48 3\\ -1771 30 3\\ -1763 39 4\\
-1750 33 3\\ -1741 24 3\\ -1727 43 3\\ -1712 63 3\\ -1703 29 4\\ -1690 37 3\\ -1676 45 3\\ -1670 60 3\\ -1655 32 3\\ -1643 26 4\\
-1630 40 3\\ -1618 34 3\\ -1605 19 3\\ -1596 38 4\\ -1580 44 3\\ -1571 28 3\\ -1556 35 3\\ -1544 41 4\\ -1532 25 3\\ -1519 31 3\\
-1506 47 3\\ -1494 36 4\\ -1480 22 3\\ -1468 33 3\\ -1455 40 4\\ -1441 29 3\\ -1430 37 3\\ -1416 13 3\\ -1404 31 4\\ -1392 44 3\\
-1378 26 3\\ -1366 35 3\\ -1351 21 4\\ -1339 30 3\\ -1326 38 3\\ -1312 24 3\\ -1300 33 4\\ -1287 17 3\\ -1275 28 3\\ -1262 36 4\\
-1250 42 3\\ -1236 23 3\\ -1224 31 3\\ -1211 19 4\\ -1197 35 3\\ -1186 27 3\\ -1170 40 3\\ -1158 30 4\\ -1138 66 3\\ -1126 25 3\\
-1112 34 3\\ -1100 18 4\\ -1087 29 3\\ -1072 38 3\\ -1060 22 3\\ -1040 60 4\\ -1030 31 3\\ -1017 26 3\\ -1002 36 3\\ -990 15 4\\
-978 28 3\\ -963 33 3\\ -951 20 3\\ -938 39 4\\ -924 27 3\\ -912 16 3\\ -898 31 3\\ -885 43 4\\ -872 24 3\\ -860 35 3\\
-846 21 3\\ -832 30 4\\ -818 40 3\\ -806 26 3\\ -792 34 3\\ -778 46 4\\ -764 29 3\\ -752 38 3\\ -738 22 3\\ -724 42 4\\
-712 33 3\\ -698 48 3\\ -685 27 3\\ -672 37 4\\ -657 44 3\\ -645 31 3\\ -630 52 3\\ -616 40 4\\ -604 35 3\\ -590 47 3\\
-576 29 3\\ -562 54 4\\ -550 41 3\\ -536 62 3\\ -522 45 3\\ -508 36 4\\ -496 57 3\\ -482 49 3\\ -468 40 4\\ -455 66 3\\
-440 52 3\\ -428 44 3\\ -414 72 4\\ -400 58 3\\ -388 47 3\\ -374 38 3\\ -360 80 4\\ -348 55 3\\ -334 63 3\\ -320 42 4\\
-306 50 3\\ -292 68 3\\ -279 46 3\\ -265 57 4\\ -252 39 3\\ -238 61 3\\ -224 52 3\\ -210 73 4\\ -197 44 3\\ -183 56 3\\
-170 35 4\\ -156 63 3\\ -142 48 3\\ -128 58 3\\ -114 40 4\\ -100 76 3\\ -88 54 3\\ -74 45 3\\ -60 62 4\\ -46 37 3\\
-32 82 3\\ -20 58 4\\ -6 47 3\\ 8 66 3\\ 22 51 4\\ 36 42 3\\ 50 72 3\\ 64 56 3\\ 78 38 4\\ 92 60 3\\
106 48 3\\ 120 34 3\\ 134 64 4\\ 148 53 3\\ 162 44 3\\ 176 58 4\\ 190 68 3\\ 204 50 3\\ 218 40 3\\ 232 61 4\\
246 54 3\\ 260 37 3\\ 274 46 4\\ 288 57 3\\ 302 66 3\\ 316 43 3\\ 330 52 4\\ 344 36 3\\ 358 60 3\\ 372 47 3\\
386 70 4\\ 400 41 3\\ 414 55 3\\ 428 63 4\\ 442 45 3\\ 456 34 3\\ 470 57 3\\ 484 49 4\\ 498 39 3\\ 512 62 3\\
526 52 4\\ 540 44 3\\ 554 67 3\\ 568 35 3\\ 582 55 4\\ 596 46 3\\ 610 72 3\\ 624 40 4\\ 638 58 3\\ 652 49 3\\
666 34 3\\ 680 61 4\\ 694 44 3\\ 708 53 3\\ 722 66 4\\ 736 38 3\\ 750 50 3\\ 764 43 3\\ 778 59 4\\ 792 47 3\\
806 35 3\\ 820 54 4\\ 834 42 3\\ 848 64 3\\ 862 37 3\\ 876 49 4\\ 890 44 3\\ 904 28 3\\ 918 47 4\\ 932 39 3\\
946 53 3\\ 960 33 3\\ 974 45 4\\ 988 26 3\\ 1002 41 3\\ 1016 49 4\\ 1030 32 3\\ 1044 43 3\\ 1058 22 3\\ 1072 36 4\\
1086 46 3\\ 1100 29 3\\ 1114 38 3\\ 1128 16 4\\ 1142 34 3\\ 1156 42 3\\ 1170 25 4\\ 1184 37 3\\ 1198 14 3\\ 1212 31 3\\
1226 39 4\\ 1240 20 3\\ 1254 34 3\\ 1268 11 3\\ 1282 29 4\\ 1296 37 3\\ 1310 19 3\\ 1324 31 4\\ 1338 10 3\\ 1352 27 3\\
1366 35 3\\ 1380 17 4\\ 1394 29 3\\ 1408 8 3\\ 1422 25 3\\ 1436 33 4\\ 1450 13 3\\ 1464 28 3\\ 1478 36 4\\ 1492 20 3\\
1506 31 3\\ 1520 11 3\\ 1534 26 4\\ 1548 34 3\\ 1562 19 3\\ 1576 29 4\\ 1590 38 3\\ 1604 14 3\\ 1618 31 3\\ 1632 25 4\\
1646 36 3\\ 1660 21 3\\ 1674 32 4\\ 1688 26 3\\ 1702 39 3\\ 1716 24 3\\ 1730 34 4\\ 1744 17 3\\ 1758 31 3\\ 1772 37 4\\
1788 27 3\\ 1806 35 3\\ 1854 39 3\\ 1878 56 3\\ 1897 47 4\\ 1915 61 3\\ 1936 51 3\\ 1958 59 4\\ 1978 49 3\\ 2000 63 3\\
2018 44 4\\ 2040 57 3\\ 2058 67 3\\ 2078 59 3\\ 2098 73 4\\ 2118 61 3\\ 2138 77 3\\ 2158 69 4\\ 2174 83 3\\ 2184 91 3\\
2196 64 4\\
};
\labR{J0659+1414}{0.03}
\end{axis}
%% ---------------- row 5 ----------------
\begin{axis}[pan, colL, rowM, at={(0pt,-158.16pt)}]
\addplot[zero] coordinates {(-2040,52.4) (2756,52.4)};
\addplot[res] table[row sep=\\] {x y e\\
-2012 54 8\\ -2000 50 6\\ -1990 58 9\\ -1978 47 7\\ -1968 62 10\\ -1955 52 7\\ -1945 45 8\\ -1935 56 9\\ -1922 40 7\\ -1910 60 8\\
-1898 49 10\\ -1888 35 8\\ -1876 55 9\\ -1864 43 7\\ -1852 64 11\\ -1840 51 8\\ -1828 38 9\\ -1814 90 12\\ -1803 57 10\\ -1792 46 8\\
-1780 66 12\\ -1768 41 9\\ -1756 53 8\\ -1744 30 10\\ -1732 58 9\\ -1720 48 8\\ -1706 62 11\\ -1694 44 7\\ -1680 55 8\\ -1668 36 9\\
-1655 50 7\\ -1642 59 10\\ -1630 45 8\\ -1617 52 7\\ -1604 40 9\\ -1590 63 12\\ -1572 21 8\\ -1566 49 9\\ -1552 57 8\\ -1540 43 10\\
-1528 60 11\\ -1515 51 8\\ -1500 38 9\\ -1488 56 7\\ -1475 47 8\\ -1462 64 10\\ -1450 53 7\\ -1437 44 8\\ -1424 58 9\\ -1410 49 7\\
-1398 70 12\\ -1385 54 8\\ -1372 41 9\\ -1361 10 7\\ -1348 55 8\\ -1336 73 12\\ -1322 50 7\\ -1310 45 9\\ -1297 59 8\\ -1284 36 10\\
-1272 52 7\\ -1260 47 8\\ -1246 61 9\\ -1234 56 7\\ -1220 43 10\\ -1208 50 8\\ -1195 62 9\\ -1183 54 7\\ -1170 39 8\\ -1158 57 9\\
-1145 48 7\\ -1132 66 11\\ -1120 52 8\\ -1107 44 7\\ -1094 59 9\\ -1082 50 8\\ -1068 35 9\\ -1055 55 7\\ -1042 47 8\\ -1030 62 10\\
-1017 53 7\\ -1004 41 9\\ -992 58 8\\ -978 49 7\\ -965 64 10\\ -952 56 8\\ -940 45 9\\ -926 52 7\\ -914 80 12\\ -910 18 10\\
-898 57 8\\ -885 47 9\\ -872 60 10\\ -858 51 7\\ -845 43 8\\ -832 58 9\\ -818 66 10\\ -805 50 7\\ -792 56 8\\ -778 42 9\\
-765 61 10\\ -752 53 7\\ -738 46 8\\ -725 59 9\\ -712 48 7\\ -698 64 11\\ -685 55 8\\ -672 40 9\\ -658 52 7\\ -645 58 8\\
-632 45 9\\ -618 61 10\\ -605 50 7\\ -592 36 9\\ -578 55 8\\ -565 47 7\\ -552 62 10\\ -538 53 8\\ -525 44 9\\ -503 21 9\\
-490 57 8\\ -477 49 7\\ -463 63 10\\ -450 54 8\\ -437 42 9\\ -423 58 8\\ -410 50 7\\ -396 38 10\\ -383 60 9\\ -370 52 7\\
-356 45 8\\ -343 57 9\\ -330 48 7\\ -316 64 10\\ -303 55 8\\ -290 43 9\\ -276 51 7\\ -263 59 8\\ -250 46 9\\ -236 53 7\\
-217 28 12\\ -205 56 8\\ -190 47 9\\ -177 83 14\\ -165 54 8\\ -150 43 9\\ -137 60 10\\ -124 51 7\\ -110 38 9\\ -97 57 8\\
-84 49 7\\ -70 62 10\\ -57 45 8\\ -44 55 7\\ -30 33 9\\ -17 58 8\\ -4 50 7\\ 10 64 11\\ 23 47 8\\ 36 56 9\\
50 42 7\\ 63 53 8\\ 76 60 9\\ 90 48 7\\ 103 37 9\\ 116 55 8\\ 130 62 10\\ 143 46 7\\ 156 52 8\\ 170 40 9\\
183 58 8\\ 196 49 7\\ 210 17 12\\ 223 56 8\\ 236 44 9\\ 250 61 10\\ 263 53 7\\ 276 38 9\\ 290 58 8\\ 303 65 10\\
320 87 16\\ 333 50 8\\ 346 42 9\\ 360 57 8\\ 373 33 9\\ 386 52 7\\ 400 60 9\\ 413 46 8\\ 426 55 7\\ 440 40 9\\
453 58 8\\ 466 51 7\\ 480 44 9\\ 493 62 10\\ 506 54 8\\ 527 74 14\\ 540 50 7\\ 553 57 8\\ 567 45 9\\ 580 59 8\\
593 52 7\\ 607 48 8\\ 620 56 9\\ 640 43 8\\ 660 61 10\\ 680 52 7\\ 700 32 9\\ 720 55 8\\ 740 48 7\\ 760 63 10\\
780 53 8\\ 800 45 7\\ 820 57 9\\ 840 50 8\\ 860 39 9\\ 875 60 9\\ 892 26 8\\ 905 55 7\\ 920 47 8\\ 935 64 10\\
950 52 7\\ 967 80 6\\ 980 49 8\\ 995 58 9\\ 1015 26 10\\ 1030 53 8\\ 1045 61 9\\ 1060 45 7\\ 1075 56 8\\ 1090 50 7\\
1105 42 8\\ 1120 59 9\\ 1134 30 8\\ 1150 54 7\\ 1165 48 8\\ 1180 62 10\\ 1200 51 7\\ 1220 56 8\\ 1240 44 9\\ 1260 53 7\\
1280 49 8\\ 1300 60 9\\ 1320 52 7\\ 1340 46 8\\ 1360 57 9\\ 1380 50 7\\ 1400 63 10\\ 1420 54 8\\ 1440 58 9\\ 1460 48 7\\
1480 55 8\\ 1500 51 7\\ 1530 34 8\\ 1550 49 9\\ 1570 56 8\\ 1590 45 9\\ 1610 53 7\\ 1630 40 9\\ 1650 58 8\\ 1670 47 9\\
1690 62 10\\ 1710 38 9\\ 1730 55 8\\ 1750 63 9\\ 1770 50 7\\ 1790 64 10\\ 1810 45 9\\ 1830 57 8\\ 1850 49 7\\ 1870 60 9\\
1890 46 8\\ 1910 54 7\\ 1926 39 11\\ 1945 52 8\\ 1965 58 9\\ 1985 50 7\\ 2005 56 8\\ 2025 47 9\\ 2045 55 8\\ 2065 51 7\\
2089 75 12\\ 2092 31 9\\ 2110 53 8\\ 2130 58 9\\ 2150 49 7\\ 2168 40 8\\ 2180 55 9\\ 2190 50 7\\ 2200 46 8\\
};
\labL{J0152$-$1637}{0.01}
\end{axis}
\begin{axis}[pan, colR, rowM, at={(327.5pt,-158.16pt)}]
\addplot[zero] coordinates {(-2950,63.1) (2343,63.1)};
\addplot[crv] table[row sep=\\] {x y\\
-2039 28.5\\ -2030 30.5\\ -2020 32.5\\ -2010 35\\ -2000 37\\ -1990 39\\ -1980 41\\ -1970 43\\ -1960 44.5\\ -1951 46\\
-1942 49\\ -1932 52\\ -1922 55\\ -1912 58\\ -1902 60\\ -1892 62\\ -1882 63.5\\ -1872 65\\ -1860 67.5\\ -1848 70\\
-1836 72\\ -1824 74\\ -1812 75.5\\ -1800 77\\ -1786 79\\ -1772 81\\ -1758 83\\ -1744 84.5\\ -1730 85.5\\ -1716 86.5\\
-1702 87.5\\ -1688 88.5\\ -1674 89.5\\ -1660 90\\ -1645 90.5\\ -1630 91\\ -1615 91\\ -1600 90.5\\ -1585 89.5\\ -1570 88.5\\
-1555 87.5\\ -1540 86\\ -1525 84\\ -1510 82\\ -1495 80\\ -1480 78\\ -1465 76\\ -1450 74\\ -1435 72\\ -1420 70\\
-1405 68\\ -1390 65.5\\ -1375 63\\ -1360 60.5\\ -1345 58.5\\ -1330 57\\ -1315 56\\ -1300 55\\ -1285 54\\ -1270 53.5\\
-1255 53\\ -1240 52.5\\ -1220 52\\ -1200 52\\ -1180 52\\ -1160 52\\ -1140 52\\ -1120 52.5\\ -1100 52.5\\ -1080 52.5\\
-1060 53\\ -1040 53\\ -1020 53.5\\ -1000 53.5\\ -980 54\\ -960 54\\ -940 54.5\\ -920 54.5\\ -900 55\\ -880 55\\
-860 55.5\\ -840 55.5\\ -820 56\\ -800 56\\ -780 56.5\\ -760 56.5\\ -740 57\\ -720 57.5\\ -700 58\\ -680 58.5\\
-660 59\\ -640 59.5\\ -620 60\\ -600 60.5\\ -580 61\\ -560 61.5\\ -540 62\\ -520 62.5\\ -500 63\\ -480 63.5\\
-460 64\\ -440 64.5\\ -420 65\\ -400 65.5\\ -380 66\\ -360 66.5\\ -340 67\\ -320 67.5\\ -300 68\\ -280 68.5\\
-260 69\\ -240 69.5\\ -220 70\\ -200 70\\ -180 70.5\\ -160 70.5\\ -140 70\\ -120 70\\ -100 69.5\\ -80 69\\
-60 68.5\\ -40 68\\ -20 67.5\\ 0 67\\ 20 67\\ 40 66.5\\ 60 66.5\\ 80 66\\ 100 66\\ 120 65.5\\
140 65\\ 160 64.5\\ 180 64\\ 200 63.5\\ 220 63\\ 240 62.5\\ 260 62\\ 280 61.5\\ 300 61\\ 320 60.5\\
340 60\\ 360 59.5\\ 380 59\\ 400 58.5\\ 420 58\\ 440 57.5\\ 460 57.5\\ 480 57\\ 500 56.5\\ 520 56.5\\
540 56\\ 560 56\\ 580 56\\ 600 55.5\\ 620 55.5\\ 640 55.5\\ 660 55.5\\ 680 55\\ 700 55\\ 720 55\\
740 55\\ 760 55\\ 780 54.5\\ 800 54.5\\ 820 54.5\\ 840 54.5\\ 860 54\\ 880 54\\ 900 54\\ 920 53.5\\
940 53.5\\ 960 53\\ 980 53\\ 1000 53\\ 1020 53\\ 1040 53\\ 1060 53.5\\ 1080 54\\ 1100 54.5\\ 1120 55\\
1140 55.5\\ 1160 56\\ 1180 56.5\\ 1200 57\\ 1220 58\\ 1240 59\\ 1260 60\\ 1280 61\\ 1300 62\\ 1320 63\\
1340 64.5\\ 1360 66\\ 1380 67.5\\ 1400 69\\ 1420 70.5\\ 1440 72\\ 1460 73.5\\ 1480 75\\ 1500 76.5\\ 1520 78\\
1540 79.5\\ 1560 81\\ 1580 82.5\\ 1600 84\\ 1620 85\\ 1640 86\\ 1660 87\\ 1680 87.5\\ 1700 88\\ 1720 88.5\\
1740 88.5\\ 1760 88\\ 1780 87\\ 1795 86\\ 1810 84.5\\ 1825 83\\ 1840 81\\ 1855 79\\ 1870 76.5\\ 1885 74\\
1900 71.5\\ 1915 69\\ 1930 66.5\\ 1945 64\\ 1960 61.5\\ 1975 58.5\\ 1990 55.5\\ 2000 53\\ 2010 51\\ 2020 48.5\\
2030 46\\ 2040 43.5\\ 2050 41\\ 2060 38.5\\ 2070 36\\ 2080 33.5\\ 2090 31\\ 2100 29\\ 2110 27\\ 2120 25\\
2130 23\\ 2140 21\\ 2152 19\\ 2165 17\\ 2178 15\\ 2192 13\\ 2206 11\\ 2221 9.3\\
};
\labR{J0729$-$1836}{0.17}
\end{axis}
%% ---------------- row 6 ----------------
\begin{axis}[pan, colL, rowM, at={(0pt,-197.7pt)}]
\addplot[zero] coordinates {(-2040,46.1) (2756,46.1)};
\addplot[res] table[row sep=\\] {x y e\\
-2012 40 12\\ -2005 23 10\\ -1998 15 9\\ -1990 33 14\\ -1982 52 12\\ -1975 28 15\\ -1968 45 10\\ -1960 18 12\\ -1952 60 14\\ -1944 37 11\\
-1936 25 13\\ -1928 48 9\\ -1920 56 12\\ -1912 31 14\\ -1904 42 10\\ -1895 64 13\\ -1887 21 12\\ -1879 50 11\\ -1870 36 9\\ -1862 70 14\\
-1854 44 10\\ -1846 12 9\\ -1838 58 13\\ -1830 79 12\\ -1822 33 11\\ -1814 49 9\\ -1806 62 12\\ -1798 27 10\\ -1790 46 8\\ -1780 55 9\\
-1770 38 9\\ -1760 51 8\\ -1750 44 9\\ -1738 57 7\\ -1726 47 8\\ -1714 60 9\\ -1700 42 7\\ -1688 54 8\\ -1676 49 9\\ -1664 58 8\\
-1650 45 10\\ -1638 62 9\\ -1625 53 8\\ -1612 48 7\\ -1600 57 9\\ -1588 66 8\\ -1576 54 7\\ -1564 61 9\\ -1552 72 10\\ -1540 58 8\\
-1528 65 7\\ -1516 56 9\\ -1504 68 8\\ -1492 75 10\\ -1480 60 8\\ -1468 70 7\\ -1456 63 8\\ -1444 78 9\\ -1432 66 7\\ -1420 57 9\\
-1408 72 8\\ -1396 80 10\\ -1384 64 7\\ -1372 68 8\\ -1360 59 9\\ -1348 74 8\\ -1336 62 7\\ -1324 70 9\\ -1312 55 8\\ -1300 66 7\\
-1288 73 9\\ -1276 60 8\\ -1264 54 7\\ -1252 68 9\\ -1240 58 8\\ -1228 64 7\\ -1216 50 10\\ -1204 61 8\\ -1192 56 7\\ -1180 69 9\\
-1168 52 8\\ -1156 60 7\\ -1144 47 9\\ -1132 57 8\\ -1120 62 7\\ -1108 45 9\\ -1096 55 8\\ -1084 50 7\\ -1072 41 9\\ -1060 58 8\\
-1048 52 7\\ -1036 63 9\\ -1024 46 8\\ -1012 54 7\\ -1000 39 9\\ -988 50 8\\ -976 57 7\\ -964 44 9\\ -952 53 8\\ -940 48 7\\
-928 60 9\\ -916 42 8\\ -904 51 7\\ -892 82 9\\ -880 36 9\\ -868 49 8\\ -856 55 7\\ -844 43 9\\ -832 59 8\\ -820 47 7\\
-808 38 9\\ -796 52 8\\ -784 61 9\\ -772 44 7\\ -760 50 8\\ -748 35 9\\ -736 48 7\\ -724 56 8\\ -712 42 9\\ -700 31 8\\
-688 47 7\\ -676 53 8\\ -664 40 9\\ -652 28 8\\ -640 45 7\\ -628 51 8\\ -616 37 9\\ -604 44 7\\ -592 55 8\\ -580 32 9\\
-568 46 7\\ -556 40 8\\ -544 26 9\\ -532 49 8\\ -520 54 9\\ -508 35 7\\ -496 43 8\\ -484 57 9\\ -472 38 8\\ -460 22 10\\
-448 46 7\\ -436 52 8\\ -424 33 9\\ -412 48 7\\ -400 41 8\\ -388 56 9\\ -376 36 8\\ -364 45 7\\ -352 29 9\\ -340 50 8\\
-328 42 7\\ -316 58 9\\ -304 38 8\\ -292 47 7\\ -280 24 10\\ -268 52 8\\ -256 43 7\\ -244 35 9\\ -232 49 8\\ -220 56 9\\
-208 40 7\\ -196 46 8\\ -184 30 9\\ -172 51 8\\ -160 44 7\\ -148 60 10\\ -136 37 8\\ -124 48 7\\ -112 54 9\\ -100 41 8\\
-88 47 7\\ -76 33 9\\ -64 52 8\\ -52 45 7\\ -40 58 9\\ -28 39 8\\ -16 50 7\\ -4 43 8\\ 8 55 9\\ 20 36 8\\
32 49 7\\ 44 12 10\\ 56 45 8\\ 68 53 9\\ 80 40 7\\ 92 47 8\\ 104 61 10\\ 116 44 8\\ 128 32 9\\ 140 50 7\\
152 56 8\\ 164 38 9\\ 176 46 7\\ 188 65 12\\ 200 42 8\\ 212 73 12\\ 224 48 7\\ 236 35 9\\ 248 53 8\\ 260 44 7\\
272 57 9\\ 284 39 8\\ 296 49 7\\ 308 27 9\\ 320 46 8\\ 332 55 9\\ 344 41 7\\ 356 50 8\\ 368 34 9\\ 380 45 7\\
392 52 8\\ 404 37 9\\ 416 48 8\\ 428 30 9\\ 440 43 7\\ 452 51 8\\ 464 38 9\\ 476 46 7\\ 488 33 8\\ 500 49 9\\
512 42 7\\ 524 36 8\\ 536 47 9\\ 548 30 8\\ 560 44 7\\ 572 39 9\\ 584 50 8\\ 596 34 7\\ 608 41 8\\ 620 46 9\\
632 28 8\\ 644 43 7\\ 656 37 8\\ 668 48 9\\ 680 32 8\\ 692 40 7\\ 704 45 9\\ 716 35 8\\ 728 42 7\\ 740 25 9\\
752 19 10\\ 764 44 8\\ 776 51 9\\ 788 38 7\\ 800 47 8\\ 812 55 9\\ 824 42 7\\ 836 58 10\\ 848 49 8\\ 860 53 7\\
872 45 9\\ 884 60 8\\ 896 50 7\\ 908 56 9\\ 920 47 8\\ 932 62 10\\ 944 52 7\\ 956 58 8\\ 968 48 9\\ 980 55 7\\
992 63 9\\ 1004 51 8\\ 1016 57 7\\ 1028 46 8\\ 1040 59 9\\ 1052 53 7\\ 1064 49 8\\ 1076 61 9\\ 1088 54 7\\ 1100 47 8\\
1112 58 9\\ 1124 52 7\\ 1136 64 10\\ 1148 50 8\\ 1160 56 7\\ 1172 45 9\\ 1184 60 8\\ 1196 53 7\\ 1208 48 8\\ 1220 57 9\\
1232 51 7\\ 1244 62 10\\ 1256 46 8\\ 1268 54 7\\ 1280 50 8\\ 1292 59 9\\ 1304 52 7\\ 1316 47 8\\ 1328 56 9\\ 1340 80 12\\
1352 36 9\\ 1364 53 7\\ 1376 49 8\\ 1388 58 9\\ 1400 51 7\\ 1412 45 8\\ 1424 55 9\\ 1436 63 10\\ 1448 48 8\\ 1460 52 7\\
1472 44 8\\ 1484 57 9\\ 1496 50 7\\ 1508 46 8\\ 1520 53 9\\ 1532 41 8\\ 1544 49 7\\ 1556 55 8\\ 1568 45 9\\ 1580 51 7\\
1592 43 8\\ 1604 48 7\\ 1616 38 8\\ 1628 46 7\\ 1640 52 8\\ 1652 41 7\\ 1664 47 8\\ 1676 36 9\\ 1688 44 7\\ 1700 50 8\\
1712 39 7\\ 1724 45 8\\ 1736 34 7\\ 1748 42 8\\ 1760 47 7\\ 1772 38 8\\ 1784 43 7\\ 1796 30 8\\ 1808 40 7\\ 1820 46 8\\
1836 36 7\\ 1850 42 6\\ 1864 48 7\\ 1878 39 6\\ 1892 45 7\\ 1906 22 8\\ 1920 40 7\\ 1934 17 8\\ 1948 37 7\\ 1962 43 6\\
1976 38 7\\ 1990 46 6\\ 2004 41 7\\ 2018 47 6\\ 2032 42 7\\ 2046 49 6\\ 2060 44 7\\ 2074 50 6\\ 2088 45 7\\ 2102 51 6\\
2116 46 7\\ 2130 55 6\\ 2144 48 7\\ 2158 52 6\\ 2172 47 5\\ 2186 55 6\\ 2200 51 5\\ 2214 58 6\\
};
\labL{J0215+6218}{0.01}
\end{axis}
\begin{axis}[pan, colR, rowM, at={(327.5pt,-197.7pt)}]
\addplot[zero] coordinates {(-2950,54.6) (2343,54.6)};
\addplot[res] table[row sep=\\] {x y e\\
-2024 23 8\\ -2018 10 7\\ -2010 18 8\\ -2002 30 7\\ -1994 26 9\\ -1986 36 8\\ -1978 32 7\\ -1970 44 8\\ -1962 40 9\\ -1951 48 8\\
-1940 43 7\\ -1928 50 8\\ -1916 46 9\\ -1904 55 8\\ -1892 50 7\\ -1880 58 9\\ -1868 72 10\\ -1856 62 8\\ -1844 55 7\\ -1832 68 9\\
-1820 60 8\\ -1808 52 7\\ -1796 64 9\\ -1784 58 8\\ -1772 50 9\\ -1760 62 8\\ -1748 56 7\\ -1736 66 9\\ -1724 60 8\\ -1712 54 7\\
-1700 64 9\\ -1688 58 8\\ -1676 70 9\\ -1664 62 8\\ -1652 56 7\\ -1640 66 9\\ -1628 60 8\\ -1616 72 10\\ -1604 64 8\\ -1592 58 7\\
-1580 68 9\\ -1561 90 12\\ -1550 66 8\\ -1538 74 9\\ -1526 64 8\\ -1514 70 7\\ -1502 62 9\\ -1490 72 8\\ -1478 66 7\\ -1466 76 9\\
-1454 68 8\\ -1442 62 7\\ -1429 90 12\\ -1418 72 8\\ -1406 64 7\\ -1394 70 9\\ -1382 60 8\\ -1370 74 9\\ -1358 66 8\\ -1346 58 9\\
-1334 68 8\\ -1322 62 7\\ -1310 72 9\\ -1298 64 8\\ -1286 56 9\\ -1274 66 8\\ -1262 60 7\\ -1250 70 9\\ -1238 62 8\\ -1226 55 9\\
-1214 46 8\\ -1202 38 9\\ -1190 34 8\\ -1178 30 7\\ -1166 40 9\\ -1154 48 8\\ -1142 56 9\\ -1130 62 8\\ -1118 54 7\\ -1106 66 9\\
-1094 58 8\\ -1082 70 9\\ -1070 62 8\\ -1058 56 7\\ -1046 78 10\\ -1034 64 8\\ -1022 58 7\\ -1010 68 9\\ -998 60 8\\ -986 54 7\\
-974 64 9\\ -962 58 8\\ -950 50 9\\ -938 60 8\\ -926 66 9\\ -914 56 7\\ -902 62 8\\ -890 52 9\\ -878 58 8\\ -866 64 9\\
-854 55 7\\ -842 60 8\\ -830 50 9\\ -818 56 8\\ -806 62 9\\ -794 53 7\\ -782 58 8\\ -770 48 9\\ -758 55 8\\ -746 61 9\\
-734 52 7\\ -722 57 8\\ -710 46 9\\ -698 54 8\\ -686 60 9\\ -674 50 7\\ -662 56 8\\ -650 44 9\\ -638 52 8\\ -626 58 9\\
-614 48 7\\ -602 54 8\\ -590 42 9\\ -578 50 8\\ -566 56 9\\ -554 46 7\\ -542 52 8\\ -530 40 9\\ -518 48 8\\ -506 54 9\\
-494 44 7\\ -482 50 8\\ -470 38 9\\ -458 46 8\\ -446 52 9\\ -434 42 7\\ -422 48 8\\ -410 34 9\\ -398 44 8\\ -386 50 9\\
-374 40 7\\ -362 46 8\\ -350 32 9\\ -338 42 8\\ -326 48 9\\ -314 38 7\\ -302 44 8\\ -290 30 9\\ -278 40 8\\ -266 46 9\\
-254 36 7\\ -242 42 8\\ -230 28 9\\ -218 38 8\\ -206 44 9\\ -194 34 7\\ -182 40 8\\ -170 26 9\\ -158 36 8\\ -146 42 9\\
-134 32 7\\ -122 38 8\\ -110 48 9\\ -98 40 8\\ -86 46 9\\ -74 36 7\\ -62 44 8\\ -50 52 9\\ -38 42 8\\ -26 48 9\\
-14 40 7\\ -2 46 8\\ 10 54 9\\ 22 44 8\\ 34 50 9\\ 46 42 7\\ 58 48 8\\ 70 56 9\\ 82 46 8\\ 94 52 9\\
106 44 7\\ 118 50 8\\ 130 58 9\\ 142 48 8\\ 154 54 9\\ 166 46 7\\ 178 52 8\\ 190 60 9\\ 202 50 8\\ 214 56 9\\
226 48 7\\ 238 54 8\\ 250 62 9\\ 262 52 8\\ 274 58 9\\ 286 50 7\\ 298 56 8\\ 310 64 9\\ 322 54 8\\ 334 60 9\\
346 70 10\\ 358 56 8\\ 370 62 9\\ 382 52 7\\ 394 58 8\\ 406 66 9\\ 418 56 8\\ 430 62 9\\ 442 54 7\\ 454 60 8\\
466 68 9\\ 478 58 8\\ 490 64 9\\ 502 56 7\\ 514 62 8\\ 526 72 9\\ 538 60 8\\ 550 66 9\\ 562 58 7\\ 574 64 8\\
586 56 9\\ 598 62 8\\ 610 70 9\\ 622 60 7\\ 635 66 8\\ 650 74 9\\ 665 64 8\\ 680 70 9\\ 695 62 7\\ 710 68 8\\
725 76 9\\ 740 66 8\\ 755 72 9\\ 770 64 7\\ 785 70 8\\ 800 78 9\\ 815 68 8\\ 830 74 9\\ 845 66 7\\ 860 72 8\\
875 80 9\\ 890 70 8\\ 905 76 9\\ 920 68 7\\ 935 74 8\\ 950 64 9\\ 965 70 8\\ 980 78 9\\ 995 68 7\\ 1010 74 8\\
1025 66 9\\ 1040 72 8\\ 1055 62 9\\ 1070 68 7\\ 1085 74 8\\ 1100 64 9\\ 1115 70 8\\ 1130 60 9\\ 1145 66 7\\ 1160 72 8\\
1175 62 9\\ 1190 68 8\\ 1205 58 9\\ 1220 64 7\\ 1235 70 8\\ 1250 60 9\\ 1265 66 8\\ 1280 56 9\\ 1295 62 7\\ 1310 68 8\\
1325 58 9\\ 1340 64 8\\ 1355 54 9\\ 1370 60 7\\ 1385 66 8\\ 1400 56 9\\ 1415 62 8\\ 1430 52 9\\ 1445 58 7\\ 1460 64 8\\
1475 54 9\\ 1490 60 8\\ 1505 50 9\\ 1520 56 7\\ 1535 62 8\\ 1550 52 9\\ 1565 58 8\\ 1580 48 9\\ 1595 54 7\\ 1610 60 8\\
1625 50 9\\ 1640 56 8\\ 1655 46 9\\ 1670 52 7\\ 1685 58 8\\ 1700 48 9\\ 1715 54 8\\ 1730 44 9\\ 1745 50 7\\ 1760 56 8\\
1775 46 9\\ 1790 52 8\\ 1806 42 9\\ 1903 48 9\\ 1915 40 8\\ 1933 26 9\\ 1945 44 8\\ 1960 52 7\\ 1975 46 8\\ 1990 38 9\\
2005 50 8\\ 2020 42 7\\ 2035 48 8\\ 2050 36 9\\ 2065 44 8\\ 2080 50 7\\ 2095 40 8\\ 2110 46 9\\ 2125 52 8\\ 2140 42 7\\
2155 48 8\\ 2170 38 9\\ 2185 46 8\\ 2200 52 9\\ 2215 44 8\\
};
\labR{J0758$-$1528}{0.01}
\end{axis}
%% ---------------- row 7 ----------------
\begin{axis}[pan, colL, rowM, at={(0pt,-237.24pt)}]
\addplot[zero] coordinates {(-2040,48.5) (2756,48.5)};
\addplot[res] table[row sep=\\] {x y e\\
-2012 56 9\\ -2005 45 8\\ -1998 62 10\\ -1990 38 9\\ -1982 50 8\\ -1975 71 10\\ -1968 24 10\\ -1960 58 9\\ -1952 44 8\\ -1944 66 9\\
-1936 52 8\\ -1928 36 10\\ -1920 60 9\\ -1912 48 8\\ -1904 70 9\\ -1896 55 8\\ -1888 42 9\\ -1880 63 8\\ -1872 50 9\\ -1864 77 10\\
-1856 58 8\\ -1848 40 9\\ -1840 66 9\\ -1832 53 8\\ -1824 30 10\\ -1816 61 9\\ -1808 46 8\\ -1800 72 9\\ -1790 55 8\\ -1780 38 9\\
-1770 63 8\\ -1760 50 9\\ -1750 42 10\\ -1740 58 8\\ -1730 23 12\\ -1720 48 9\\ -1710 62 8\\ -1700 44 9\\ -1690 55 8\\ -1679 66 9\\
-1665 50 8\\ -1650 62 9\\ -1635 44 10\\ -1620 56 9\\ -1605 63 8\\ -1590 40 9\\ -1575 52 8\\ -1565 35 9\\ -1552 26 16\\ -1540 15 12\\
-1520 72 10\\ -1505 58 9\\ -1490 45 8\\ -1470 52 9\\ -1452 38 10\\ -1435 58 9\\ -1418 31 9\\ -1400 48 8\\ -1385 58 9\\ -1370 44 8\\
-1355 50 9\\ -1340 40 8\\ -1322 42 9\\ -1305 58 10\\ -1290 48 8\\ -1275 36 9\\ -1260 55 8\\ -1245 42 10\\ -1230 50 9\\ -1212 72 10\\
-1195 62 9\\ -1180 48 8\\ -1165 56 9\\ -1150 44 8\\ -1135 66 9\\ -1120 52 8\\ -1105 38 9\\ -1090 58 8\\ -1075 46 9\\ -1060 62 8\\
-1045 50 9\\ -1030 40 8\\ -1015 56 9\\ -1000 48 8\\ -985 66 9\\ -972 10 7\\ -960 52 8\\ -945 60 9\\ -930 44 8\\ -915 75 9\\
-900 64 8\\ -885 54 9\\ -870 42 8\\ -855 58 9\\ -840 66 8\\ -825 50 9\\ -810 40 8\\ -795 57 9\\ -780 48 8\\ -765 62 9\\
-750 52 8\\ -735 38 9\\ -720 56 8\\ -705 46 9\\ -690 60 8\\ -675 52 9\\ -660 40 10\\ -645 56 9\\ -630 50 8\\ -615 44 9\\
-600 60 8\\ -585 54 9\\ -570 38 8\\ -555 52 9\\ -540 46 8\\ -525 66 9\\ -510 56 8\\ -495 44 9\\ -480 58 8\\ -460 85 6\\
-445 67 8\\ -430 74 9\\ -415 50 8\\ -400 62 9\\ -385 48 8\\ -370 35 9\\ -355 56 8\\ -340 44 9\\ -325 66 9\\ -310 54 8\\
-295 42 9\\ -280 58 8\\ -265 50 9\\ -250 38 8\\ -235 53 9\\ -220 45 8\\ -205 30 9\\ -190 26 8\\ -175 48 9\\ -160 58 8\\
-145 44 9\\ -130 36 8\\ -115 52 9\\ -100 60 8\\ -85 47 9\\ -70 40 8\\ -55 56 9\\ -40 65 9\\ -25 86 12\\ -10 74 10\\
5 60 9\\ 20 38 9\\ 35 54 8\\ 50 62 9\\ 65 48 8\\ 80 28 9\\ 95 56 8\\ 110 45 9\\ 125 64 9\\ 140 52 8\\
155 40 9\\ 170 58 8\\ 185 68 9\\ 200 50 8\\ 215 44 9\\ 230 60 8\\ 245 36 9\\ 260 52 8\\ 275 58 9\\ 290 46 8\\
305 40 8\\ 320 62 9\\ 340 54 8\\ 355 50 9\\ 370 61 8\\ 386 36 9\\ 400 64 9\\ 415 38 8\\ 430 56 9\\ 450 48 8\\
470 40 9\\ 490 31 8\\ 510 46 9\\ 530 40 8\\ 550 52 9\\ 570 35 8\\ 590 20 9\\ 610 46 9\\ 630 40 8\\ 650 58 9\\
668 64 9\\ 684 48 8\\ 700 39 8\\ 715 52 9\\ 730 30 8\\ 745 56 9\\ 760 44 10\\ 775 37 9\\ 790 60 9\\ 805 55 8\\
820 78 8\\ 835 69 9\\ 850 46 8\\ 865 30 9\\ 880 26 8\\ 895 38 9\\ 910 48 8\\ 925 60 9\\ 940 67 8\\ 955 85 8\\
970 52 9\\ 985 46 8\\ 997 72 9\\ 1012 30 10\\ 1025 54 8\\ 1040 40 9\\ 1055 37 8\\ 1070 58 9\\ 1085 32 8\\ 1100 48 9\\
1115 56 8\\ 1130 46 9\\ 1150 60 8\\ 1165 66 9\\ 1180 35 8\\ 1195 28 9\\ 1210 48 8\\ 1230 40 9\\ 1250 75 9\\ 1265 82 8\\
1280 70 9\\ 1295 63 8\\ 1310 55 9\\ 1325 30 9\\ 1340 10 14\\ 1355 44 9\\ 1370 40 8\\ 1385 52 9\\ 1400 60 8\\ 1420 84 8\\
1435 69 9\\ 1450 58 8\\ 1470 62 9\\ 1490 55 8\\ 1510 60 9\\ 1530 74 8\\ 1555 40 9\\ 1575 30 8\\ 1600 50 9\\ 1625 38 8\\
1650 60 9\\ 1680 47 8\\ 1700 62 9\\ 1714 39 9\\ 1730 70 10\\ 1755 41 9\\ 1780 48 8\\ 1810 58 9\\ 1835 66 8\\ 1860 58 9\\
1880 40 9\\ 1900 70 8\\ 1930 54 9\\ 1955 47 8\\ 1985 58 9\\ 2010 64 8\\ 2035 52 9\\ 2060 43 8\\ 2080 49 9\\ 2090 66 6\\
2110 56 8\\ 2140 38 9\\ 2160 52 8\\ 2190 35 8\\
2617 72 1\\ 2617 39 1\\
};
\labL{J0323+3944}{0.01}
\end{axis}
\begin{axis}[pan, colR, rowM, at={(327.5pt,-237.24pt)}]
\addplot[zero] coordinates {(-2950,46.1) (2343,46.1)};
\addplot[res] table[row sep=\\] {x y e\\
-2024 61 7\\ -1995 52 6\\ -1980 44 7\\ -1960 55 6\\ -1945 50 5\\ -1925 47 6\\ -1910 40 7\\ -1895 54 6\\ -1880 49 5\\ -1865 38 6\\
-1850 52 7\\ -1835 45 6\\ -1820 42 5\\ -1805 56 6\\ -1790 36 7\\ -1775 48 6\\ -1760 44 5\\ -1745 30 7\\ -1731 90 10\\ -1720 15 7\\
-1708 67 8\\ -1695 64 7\\ -1680 46 6\\ -1665 40 7\\ -1650 50 6\\ -1635 38 7\\ -1620 44 6\\ -1605 32 7\\ -1592 26 7\\ -1578 55 9\\
-1560 42 6\\ -1500 39 5\\ -1480 52 6\\ -1440 30 8\\ -1425 49 6\\ -1410 46 5\\ -1380 50 6\\ -1360 47 5\\ -1340 40 6\\ -1320 52 6\\
-1305 45 5\\ -1290 50 6\\ -1275 42 7\\ -1260 48 5\\ -1245 52 6\\ -1230 45 5\\ -1210 48 6\\ -1185 47 5\\ -1170 50 6\\ -1150 44 5\\
-1132 71 8\\ -1115 46 6\\ -1095 38 6\\ -1080 48 5\\ -1060 52 6\\ -1045 44 5\\ -1020 34 7\\ -1000 24 8\\ -990 47 6\\ -975 62 8\\
-962 68 8\\ -948 55 6\\ -935 57 6\\ -920 15 7\\ -912 10 7\\ -900 50 6\\ -885 58 6\\ -870 44 6\\ -855 52 5\\ -840 48 6\\
-825 40 6\\ -810 18 8\\ -795 44 6\\ -780 55 6\\ -765 47 5\\ -750 36 7\\ -735 58 6\\ -720 50 5\\ -705 42 6\\ -690 38 7\\
-675 46 6\\ -660 54 5\\ -645 58 6\\ -630 48 5\\ -615 44 6\\ -600 54 6\\ -585 32 7\\ -570 50 5\\ -555 42 6\\ -540 47 5\\
-520 52 6\\ -500 46 6\\ -480 50 5\\ -440 22 10\\ -425 48 6\\ -405 52 6\\ -390 68 8\\ -375 63 7\\ -360 45 6\\ -345 35 6\\
-330 55 6\\ -315 48 5\\ -300 68 8\\ -285 52 6\\ -270 42 6\\ -255 27 8\\ -240 46 6\\ -225 34 7\\ -210 56 6\\ -190 38 7\\
-175 45 6\\ -160 58 8\\ -145 52 6\\ -130 60 8\\ -115 80 12\\ -105 48 6\\ -90 40 7\\ -75 70 8\\ -60 54 7\\ -45 46 6\\
-30 35 7\\ -15 30 8\\ 0 52 7\\ 15 25 8\\ 30 60 8\\ 45 48 6\\ 55 71 9\\ 70 54 7\\ 82 68 8\\ 95 50 6\\
108 34 9\\ 120 40 8\\ 135 65 9\\ 148 72 10\\ 162 50 8\\ 175 44 7\\ 190 38 9\\ 205 48 7\\ 220 36 8\\ 240 42 7\\
260 56 6\\ 290 38 8\\ 320 44 6\\ 350 40 6\\ 380 46 5\\ 410 42 6\\ 440 48 6\\ 490 50 6\\ 560 48 5\\ 600 52 6\\
640 44 5\\ 686 40 6\\ 760 46 6\\ 850 50 5\\ 940 44 6\\ 1040 48 5\\ 1130 52 6\\ 1200 44 6\\ 1290 50 6\\ 1380 46 6\\
1440 39 5\\ 1520 50 6\\ 1640 47 5\\ 1740 52 6\\ 1820 46 5\\ 1903 26 6\\ 1927 56 6\\ 2000 48 5\\ 2060 52 6\\
};
\labR{J0855$-$3331}{0.01}
\end{axis}
%% ---------------- row 8 ----------------
\begin{axis}[pan, colL, rowM, at={(0pt,-276.78pt)}]
\addplot[zero] coordinates {(-2040,54.1) (2756,54.1)};
\addplot[res] table[row sep=\\] {x y e\\
-2034 45 8\\ -2014 38 7\\ -1994 42 8\\ -1974 49 9\\ -1954 40 8\\ -1934 35 9\\ -1914 44 7\\ -1894 38 8\\ -1874 29 7\\ -1854 55 9\\
-1834 49 8\\ -1814 57 10\\ -1794 51 7\\ -1774 48 8\\ -1754 45 7\\ -1734 52 9\\ -1714 58 10\\ -1694 50 7\\ -1674 55 8\\ -1654 48 8\\
-1634 46 7\\ -1614 42 9\\ -1594 50 7\\ -1574 55 8\\ -1554 60 7\\ -1534 64 9\\ -1514 69 8\\ -1494 66 8\\ -1474 78 9\\ -1454 76 7\\
-1434 73 8\\ -1414 68 9\\ -1394 84 10\\ -1374 71 7\\ -1354 74 8\\ -1334 78 8\\ -1314 81 9\\ -1294 88 9\\ -1274 73 7\\ -1254 77 8\\
-1234 82 9\\ -1214 87 9\\ -1194 72 7\\ -1174 77 8\\ -1154 81 9\\ -1134 86 10\\ -1114 71 7\\ -1094 74 8\\ -1074 76 8\\ -1054 79 9\\
-1034 73 8\\ -1014 77 9\\ -1004 61 12\\ -984 70 8\\ -964 67 8\\ -944 63 7\\ -924 58 9\\ -904 54 7\\ -884 50 9\\ -864 46 7\\
-844 40 9\\ -824 36 7\\ -804 52 9\\ -784 45 8\\ -764 41 8\\ -744 30 7\\ -724 27 7\\ -704 40 9\\ -684 35 8\\ -664 31 8\\
-644 26 7\\ -624 22 7\\ -604 35 9\\ -584 30 8\\ -564 27 8\\ -544 25 7\\ -524 22 7\\ -504 36 9\\ -484 34 8\\ -464 38 8\\
-444 40 7\\ -424 43 9\\ -404 46 8\\ -384 49 8\\ -364 52 8\\ -344 55 8\\ -324 58 8\\ -304 61 9\\ -284 64 9\\ -264 67 8\\
-244 55 8\\ -224 70 9\\ -204 57 7\\ -184 62 9\\ -164 63 8\\ -144 52 7\\ -124 67 9\\ -104 49 8\\ -84 64 8\\ -64 60 8\\
-44 63 8\\ -24 72 9\\ -4 75 9\\ 16 63 7\\ 36 71 8\\ 56 73 8\\ 76 78 9\\ 96 65 7\\ 116 70 8\\ 136 73 8\\
156 61 7\\ 176 66 9\\ 196 69 8\\ 216 57 7\\ 236 62 9\\ 256 65 8\\ 276 53 7\\ 296 58 9\\ 316 61 8\\ 336 50 7\\
356 54 9\\ 376 57 8\\ 396 46 7\\ 416 50 9\\ 436 53 8\\ 456 42 7\\ 476 46 9\\ 496 49 8\\ 516 38 7\\ 536 42 9\\
556 45 7\\ 576 48 9\\ 596 37 8\\ 616 41 7\\ 636 44 9\\ 656 40 7\\ 676 45 8\\ 696 42 7\\ 716 47 9\\ 736 44 7\\
756 48 9\\ 776 46 8\\ 796 52 9\\ 816 48 8\\ 836 55 9\\ 856 41 7\\ 876 57 8\\ 896 38 8\\ 916 55 8\\ 936 36 8\\
956 53 8\\ 976 34 8\\ 996 51 8\\ 1016 33 8\\ 1036 50 8\\ 1056 32 8\\ 1076 49 8\\ 1096 31 8\\ 1116 48 8\\ 1136 30 8\\
1156 47 8\\ 1176 40 8\\ 1196 38 7\\ 1216 50 9\\ 1236 45 8\\ 1256 41 7\\ 1276 54 9\\ 1296 49 8\\ 1316 45 7\\ 1336 58 9\\
1356 53 8\\ 1376 50 7\\ 1396 62 9\\ 1416 57 8\\ 1436 54 7\\ 1456 66 9\\ 1476 61 8\\ 1496 68 9\\ 1516 55 9\\ 1536 60 8\\
1556 62 7\\ 1576 67 9\\ 1596 64 7\\ 1616 69 9\\ 1636 66 7\\ 1656 71 9\\ 1676 68 7\\ 1696 73 9\\ 1716 70 7\\ 1736 75 8\\
1756 78 8\\ 1776 81 8\\ 1796 79 8\\ 1816 77 7\\ 1836 75 9\\ 1856 72 7\\ 1876 74 9\\ 1896 62 7\\ 1916 58 9\\ 1936 55 7\\
1956 50 9\\ 1976 45 7\\ 1996 40 9\\ 2016 36 7\\ 2036 32 9\\ 2056 28 7\\ 2076 24 9\\ 2096 20 7\\ 2116 17 9\\ 2136 14 7\\
2156 12 6\\ 2176 10 6\\ 2186 14 5\\
-1924 53 8\\ -1864 46 8\\ -1804 44 7\\ -1704 41 8\\ -1664 38 7\\ -1584 62 9\\ -1524 58 7\\ -1444 82 9\\ -1384 77 8\\ -1324 72 7\\
-1244 70 7\\ -1164 69 7\\ -1084 83 9\\ -1044 85 10\\ -934 69 8\\ -874 57 8\\ -814 44 8\\ -754 36 9\\ -694 29 7\\ -634 33 8\\
-574 20 7\\ -514 29 8\\ -454 32 9\\ -394 41 7\\ -334 50 9\\ -274 59 7\\ -194 66 8\\ -114 56 7\\ -54 70 9\\ 6 69 8\\
66 67 7\\ 126 63 7\\ 206 64 9\\ 286 63 8\\ 346 59 8\\ 426 44 7\\ 506 44 9\\ 566 39 8\\ 626 35 8\\ 666 30 10\\
726 53 8\\ 766 58 10\\ 806 62 10\\ 866 50 9\\ 946 47 9\\ 1006 39 7\\ 1066 43 9\\ 1126 36 7\\ 1186 46 9\\ 1246 52 9\\
1306 56 9\\ 1366 60 9\\ 1426 64 9\\ 1486 58 7\\ 1546 70 9\\ 1606 59 8\\ 1666 76 8\\ 1726 80 9\\ 1766 88 10\\ 1846 80 8\\
1886 66 8\\ 1926 64 8\\ 1966 56 8\\ 2006 47 8\\ 2046 38 8\\ 2086 30 8\\ 2126 22 8\\ 2166 17 6\\
};
\labL{J0357+5236}{0.02}
\end{axis}
\begin{axis}[pan, colR, rowM, at={(327.5pt,-276.78pt)}]
\addplot[zero] coordinates {(-2950,45.7) (2343,45.7)};
\addplot[res] table[row sep=\\] {x y e\\
-2010 46 20\\ -1995 62 18\\ -1985 30 14\\ -1965 55 12\\ -1950 35 15\\ -1935 48 12\\ -1918 70 16\\ -1905 30 14\\ -1890 45 12\\ -1878 62 14\\
-1862 27 12\\ -1845 50 15\\ -1830 58 12\\ -1815 40 14\\ -1800 65 14\\ -1785 18 22\\ -1770 52 14\\ -1755 60 12\\ -1740 46 14\\ -1720 38 12\\
-1700 58 13\\ -1680 66 14\\ -1660 44 12\\ -1640 35 15\\ -1620 50 12\\ -1600 62 14\\ -1580 42 13\\ -1560 28 14\\ -1540 54 12\\ -1520 46 15\\
-1500 38 14\\ -1480 58 13\\ -1460 48 12\\ -1440 33 14\\ -1420 46 12\\ -1400 60 13\\ -1385 32 10\\ -1370 55 14\\ -1350 68 12\\ -1330 80 10\\
-1310 42 14\\ -1290 52 12\\ -1270 22 16\\ -1250 64 14\\ -1230 37 13\\ -1210 55 12\\ -1190 72 14\\ -1170 46 12\\ -1150 30 15\\ -1130 60 13\\
-1110 44 12\\ -1090 68 14\\ -1070 52 12\\ -1050 36 15\\ -1030 57 13\\ -1010 48 12\\ -990 73 16\\ -970 40 13\\ -950 26 15\\ -930 60 14\\
-910 50 13\\ -890 64 14\\ -870 45 12\\ -850 36 14\\ -830 55 13\\ -810 48 12\\ -790 70 15\\ -770 42 13\\ -750 58 14\\ -730 30 14\\
-710 52 13\\ -690 46 12\\ -670 62 14\\ -650 40 13\\ -630 24 15\\ -610 56 14\\ -590 48 12\\ -570 66 14\\ -550 44 13\\ -530 34 14\\
-510 58 13\\ -490 50 12\\ -470 72 15\\ -450 42 13\\ -430 56 14\\ -410 36 13\\ -390 52 12\\ -370 64 14\\ -350 46 13\\ -330 30 14\\
-310 60 13\\ -290 48 12\\ -270 68 15\\ -250 40 13\\ -230 55 14\\ -210 26 15\\ -190 50 13\\ -170 70 14\\ -150 44 13\\ -130 36 14\\
-110 62 13\\ -90 52 12\\ -70 76 16\\ -50 45 13\\ -30 58 14\\ -10 38 13\\ 10 54 12\\ 30 64 14\\ 50 46 13\\ 70 30 14\\
90 58 13\\ 110 50 12\\ 130 66 14\\ 150 44 13\\ 170 52 14\\ 190 34 13\\ 210 18 22\\ 225 60 14\\ 240 48 13\\ 255 10 14\\
270 56 12\\ 285 70 14\\ 300 42 13\\ 315 54 14\\ 330 36 13\\ 345 50 12\\ 360 66 14\\ 375 46 13\\ 390 58 14\\ 405 28 14\\
420 52 13\\ 435 62 12\\ 450 40 13\\ 465 56 14\\ 480 48 12\\ 495 72 15\\ 510 44 13\\ 525 60 12\\ 540 34 14\\ 555 54 13\\
570 64 14\\ 585 30 14\\ 600 50 12\\ 615 70 13\\ 630 58 12\\ 645 44 13\\ 660 62 12\\ 675 74 14\\ 690 52 12\\ 705 68 12\\
720 56 11\\ 735 40 13\\ 750 60 12\\ 765 48 11\\ 780 66 12\\ 795 54 11\\ 810 38 13\\ 825 58 12\\ 840 46 11\\ 855 62 12\\
870 52 11\\ 885 44 13\\ 900 60 12\\ 915 50 11\\ 928 68 12\\ 945 62 11\\ 960 72 12\\ 975 65 11\\ 990 60 12\\ 1005 70 11\\
1020 56 12\\ 1035 64 11\\ 1050 58 12\\ 1065 50 11\\ 1080 62 12\\ 1095 34 10\\ 1110 56 11\\ 1125 32 12\\ 1140 46 11\\ 1160 52 12\\
1180 40 13\\ 1200 36 12\\ 1220 44 11\\ 1250 30 10\\ 1290 46 10\\ 1320 40 9\\ 1350 42 10\\ 1380 38 9\\ 1415 46 8\\ 1440 44 8\\
1470 40 8\\ 1500 32 9\\ 1530 36 8\\ 1560 42 9\\ 1590 38 8\\ 1620 30 8\\ 1650 36 8\\ 1680 32 9\\ 1710 38 8\\ 1740 58 18\\
1760 40 8\\ 1790 36 9\\ 1820 44 8\\ 1860 52 10\\ 1880 64 12\\ 1900 70 14\\ 1915 36 10\\ 1925 81 22\\ 1940 62 12\\ 1960 66 10\\
2160 72 18\\ 2196 80 4\\
};
\labR{J0943+1631}{0.01}
\end{axis}
%% ---------------- row 9 ----------------
\begin{axis}[pan, colL, rowB, at={(0pt,-316.32pt)}]
\addplot[zero] coordinates {(-2040,50.5) (2756,50.5)};
\addplot[res] table[row sep=\\] {x y e\\
-2024 50 4\\ -2014 55 4\\ -2004 15 4\\ -1995 60 4\\ -1985 48 5\\ -1975 57 4\\ -1965 45 5\\ -1955 52 4\\ -1945 62 5\\ -1935 40 6\\
-1925 70 5\\ -1915 55 4\\ -1905 11 9\\ -1895 28 5\\ -1885 46 6\\ -1875 77 5\\ -1865 64 6\\ -1855 52 5\\ -1845 69 6\\ -1835 58 4\\
-1825 49 5\\ -1815 64 5\\ -1805 54 4\\ -1795 48 5\\ -1785 72 6\\ -1775 53 4\\ -1765 22 4\\ -1755 45 5\\ -1745 56 4\\ -1735 50 5\\
-1720 96 6\\ -1705 52 4\\ -1690 48 4\\ -1675 55 5\\ -1660 60 4\\ -1650 49 5\\ -1640 45 14\\ -1625 58 4\\ -1610 78 6\\ -1600 66 5\\
-1590 44 5\\ -1575 53 4\\ -1560 70 6\\ -1545 50 5\\ -1530 56 4\\ -1515 46 5\\ -1500 62 5\\ -1485 54 4\\ -1470 38 5\\ -1455 32 4\\
-1440 48 5\\ -1425 26 6\\ -1410 55 5\\ -1395 52 4\\ -1380 46 5\\ -1365 59 4\\ -1350 12 4\\ -1335 48 5\\ -1320 86 7\\ -1305 40 5\\
-1290 53 4\\ -1275 75 6\\ -1260 34 5\\ -1245 57 4\\ -1230 63 5\\ -1215 50 4\\ -1200 72 5\\ -1185 44 5\\ -1170 55 4\\ -1155 41 5\\
-1140 25 5\\ -1125 52 4\\ -1110 62 5\\ -1095 46 5\\ -1080 54 4\\ -1065 38 5\\ -1050 57 4\\ -1035 50 5\\ -1020 44 5\\ -1005 53 4\\
-990 58 5\\ -975 48 4\\ -960 80 8\\ -945 55 4\\ -930 36 6\\ -915 52 4\\ -900 47 5\\ -885 58 4\\ -870 17 5\\ -855 54 4\\
-840 50 5\\ -825 62 6\\ -810 45 5\\ -795 56 4\\ -780 52 5\\ -765 60 4\\ -750 48 5\\ -735 55 4\\ -720 52 5\\ -700 97 4\\
-685 58 5\\ -670 32 6\\ -655 50 4\\ -640 62 5\\ -625 40 5\\ -610 55 4\\ -595 60 5\\ -575 86 5\\ -560 74 6\\ -545 46 4\\
-530 52 5\\ -515 66 5\\ -500 28 5\\ -485 55 4\\ -470 72 6\\ -455 58 4\\ -440 34 6\\ -425 50 5\\ -410 62 5\\ -395 49 4\\
-380 60 5\\ -365 24 5\\ -350 52 4\\ -335 58 5\\ -320 72 8\\ -305 44 5\\ -290 56 4\\ -275 12 4\\ -260 52 5\\ -245 33 5\\
-230 60 8\\ -215 78 8\\ -200 50 4\\ -185 28 4\\ -170 56 5\\ -155 44 5\\ -140 58 4\\ -125 38 6\\ -110 52 4\\ -95 66 5\\
-80 48 4\\ -62 11 5\\ -45 53 4\\ -30 42 6\\ -15 30 5\\ 0 52 4\\ 18 58 5\\ 45 47 4\\ 60 60 4\\ 70 36 5\\
85 59 4\\ 100 56 4\\ 130 28 4\\ 150 57 4\\ 185 41 5\\ 215 57 4\\ 245 36 5\\ 260 44 4\\ 282 40 4\\ 300 43 5\\
320 48 4\\ 350 50 4\\ 375 45 4\\ 400 49 4\\ 430 61 4\\ 450 58 4\\ 490 52 4\\ 520 68 5\\ 560 50 4\\ 600 46 4\\
650 52 4\\ 694 59 4\\ 760 60 4\\ 785 58 4\\ 810 44 4\\ 835 41 4\\ 858 67 4\\ 890 50 4\\ 915 39 5\\ 940 33 6\\
960 74 4\\ 990 57 4\\ 1010 55 4\\ 1030 78 4\\ 1050 58 4\\ 1070 62 4\\ 1085 40 8\\ 1100 57 4\\ 1120 62 4\\ 1140 60 4\\
1160 42 6\\ 1180 64 4\\ 1200 70 4\\ 1220 58 4\\ 1230 74 5\\ 1250 32 6\\ 1270 60 4\\ 1290 58 5\\ 1320 61 4\\ 1345 43 5\\
1370 58 4\\ 1400 37 4\\ 1430 56 4\\ 1470 62 4\\ 1520 74 4\\ 1550 60 4\\ 1580 58 4\\ 1610 62 4\\ 1650 48 6\\ 1680 42 4\\
1700 50 5\\ 1720 61 4\\ 1745 57 5\\ 1780 58 4\\ 1830 64 4\\ 1860 58 6\\ 1900 63 5\\ 1930 56 4\\ 1960 52 6\\ 1985 46 5\\
2014 22 12\\ 2040 60 4\\ 2070 52 4\\ 2090 58 4\\ 2150 73 4\\ 2150 64 7\\ 2160 30 6\\ 2168 38 6\\ 2180 44 5\\
};
\labL{J0448$-$2749}{0.02}
\mjd
\end{axis}
\begin{axis}[pan, colR, rowB, at={(327.5pt,-316.32pt)}]
\addplot[zero] coordinates {(-2950,51.5) (2343,51.5)};
\addplot[res] table[row sep=\\] {x y e\\
-2966 58 6\\ -2958 50 7\\ -2950 62 8\\ -2942 44 6\\ -2934 55 7\\ -2926 40 8\\ -2918 66 9\\ -2910 52 7\\ -2902 30 8\\ -2894 58 7\\
-2886 48 6\\ -2878 70 8\\ -2870 54 7\\ -2862 42 9\\ -2854 60 8\\ -2846 50 7\\ -2838 78 10\\ -2830 56 7\\ -2822 45 8\\ -2814 90 10\\
-2806 10 12\\ -2798 62 8\\ -2790 52 7\\ -2782 46 8\\ -2774 60 9\\ -2766 54 7\\ -2750 48 8\\ -2735 64 9\\ -2720 52 7\\ -2705 58 8\\
-2690 40 7\\ -2680 20 10\\ -2670 55 8\\ -2655 60 9\\ -2640 46 8\\ -2625 52 7\\ -2610 36 8\\ -2595 58 9\\ -2580 50 7\\ -2565 42 8\\
-2550 55 8\\ -2535 48 7\\ -2520 58 8\\ -2505 44 9\\ -2490 50 7\\ -2475 30 9\\ -2460 56 8\\ -2445 48 7\\ -2430 52 8\\ -2415 40 9\\
-2400 54 7\\ -2380 47 8\\ -2360 51 7\\ -2340 45 8\\ -2320 55 7\\ -2300 49 8\\ -2270 52 7\\ -2240 46 8\\ -2210 50 7\\ -2180 18 9\\
-2160 53 7\\
-2048 48 7\\ -2040 56 8\\ -2032 44 7\\ -2020 60 9\\ -2008 50 7\\ -1996 28 12\\ -1985 54 8\\ -1972 62 9\\ -1960 46 7\\ -1948 58 8\\
-1936 52 7\\ -1924 66 9\\ -1912 44 8\\ -1900 56 7\\ -1888 50 8\\ -1876 72 10\\ -1864 48 7\\ -1852 55 8\\ -1840 40 9\\ -1828 60 8\\
-1816 52 7\\ -1804 74 9\\ -1792 46 8\\ -1780 56 7\\ -1768 50 8\\ -1756 62 9\\ -1744 44 7\\ -1732 54 8\\ -1720 48 7\\ -1708 58 8\\
-1696 52 7\\ -1684 46 8\\ -1672 56 7\\ -1660 50 8\\ -1648 60 9\\ -1636 44 7\\ -1624 54 8\\ -1612 48 7\\ -1600 57 8\\ -1588 51 7\\
-1576 45 8\\ -1564 55 7\\ -1552 49 8\\ -1540 59 9\\ -1528 43 7\\ -1516 53 8\\ -1504 47 7\\ -1492 56 8\\ -1480 50 7\\ -1468 45 8\\
-1456 54 7\\ -1444 48 8\\ -1432 58 9\\ -1420 44 7\\ -1408 52 8\\ -1396 46 7\\ -1384 55 8\\ -1372 49 7\\ -1360 60 9\\ -1348 47 7\\
-1336 53 8\\ -1324 42 9\\ -1312 55 7\\ -1300 62 8\\ -1288 48 7\\ -1276 54 8\\ -1264 44 9\\ -1252 56 7\\ -1240 50 8\\ -1228 46 7\\
-1216 58 8\\ -1204 52 7\\ -1192 47 8\\ -1180 56 7\\ -1168 51 8\\ -1156 45 7\\ -1144 54 8\\ -1132 49 7\\ -1120 59 9\\ -1108 44 7\\
-1096 53 8\\ -1084 48 7\\ -1072 57 8\\ -1060 51 7\\ -1048 46 8\\ -1036 55 7\\ -1024 50 8\\ -1012 44 9\\ -1000 54 7\\ -988 49 8\\
-976 58 9\\ -964 43 7\\ -952 53 8\\ -940 47 7\\ -928 56 8\\ -916 51 7\\ -904 45 8\\ -892 55 7\\ -880 49 8\\ -868 60 9\\
-856 44 7\\ -844 54 8\\ -832 48 7\\ -820 57 8\\ -808 51 7\\ -796 46 8\\ -784 55 7\\ -772 50 8\\ -760 44 9\\ -748 54 7\\
-736 48 8\\ -724 58 9\\ -712 43 7\\ -700 52 8\\ -688 47 7\\ -676 56 8\\ -664 50 7\\ -652 45 8\\ -640 55 7\\ -628 49 8\\
-616 60 9\\ -604 44 7\\ -592 53 8\\ -580 28 10\\ -568 56 8\\ -556 50 7\\ -544 45 8\\ -532 55 7\\ -520 49 8\\ -508 58 9\\
-496 43 7\\ -484 52 8\\ -472 47 7\\ -460 56 8\\ -448 50 7\\ -436 45 8\\ -424 54 7\\ -412 49 8\\ -400 59 9\\ -388 44 7\\
-376 53 8\\ -364 48 7\\ -352 57 8\\ -340 51 7\\ -328 46 8\\ -316 55 7\\ -304 50 8\\ -292 44 9\\ -280 54 7\\ -268 48 8\\
-256 58 9\\ -244 43 7\\ -232 52 8\\ -220 47 7\\ -208 56 8\\ -196 50 7\\ -184 45 8\\ -172 55 7\\ -160 49 8\\ -148 62 10\\
-136 44 7\\ -124 53 8\\ -112 48 7\\ -100 57 8\\ -88 51 7\\ -76 46 8\\ -64 55 7\\ -52 50 8\\ -40 44 9\\ -28 54 7\\
-16 48 8\\ -4 60 10\\ 8 43 7\\ 20 52 8\\ 32 47 7\\ 44 56 8\\ 56 50 7\\ 68 45 8\\ 80 55 7\\ 92 49 8\\
104 60 9\\ 116 44 7\\ 128 53 8\\ 140 38 9\\ 152 56 8\\ 164 50 7\\ 176 45 8\\ 188 55 7\\ 200 49 8\\ 212 58 9\\
224 43 7\\ 236 52 8\\ 248 20 12\\ 260 56 8\\ 272 50 7\\ 284 45 8\\ 296 54 7\\ 308 49 8\\ 320 60 9\\ 332 44 7\\
344 53 8\\ 356 27 10\\ 368 57 8\\ 380 51 7\\ 392 46 8\\ 404 55 7\\ 416 50 8\\ 428 66 10\\ 440 54 7\\ 452 48 8\\
464 58 9\\ 476 43 7\\ 488 52 8\\ 500 47 7\\ 512 56 8\\ 524 50 7\\ 536 45 8\\ 548 55 7\\ 560 49 8\\ 575 78 12\\
590 44 7\\ 605 53 8\\ 620 48 7\\ 635 57 8\\ 650 51 7\\ 665 46 8\\ 680 55 7\\ 695 50 8\\ 710 44 9\\ 725 54 7\\
740 48 8\\ 755 58 9\\ 770 43 7\\ 785 52 8\\ 800 47 7\\ 815 56 8\\ 830 50 7\\ 845 45 8\\ 860 55 7\\ 875 49 8\\
890 60 9\\ 905 44 7\\ 920 53 8\\ 935 48 7\\ 950 57 8\\ 965 51 7\\ 980 46 8\\ 995 55 7\\ 1010 50 8\\ 1025 44 9\\
1040 54 7\\ 1055 48 8\\ 1070 58 9\\ 1085 43 7\\ 1100 52 8\\ 1115 47 7\\ 1130 56 8\\ 1145 50 7\\ 1160 45 8\\ 1175 55 7\\
1190 49 8\\ 1205 60 9\\ 1220 44 7\\ 1235 53 8\\ 1250 48 7\\ 1265 57 8\\ 1280 51 7\\ 1295 46 8\\ 1310 23 10\\ 1325 55 7\\
1340 50 8\\ 1360 44 9\\ 1380 54 7\\ 1400 48 8\\ 1420 58 9\\ 1440 43 7\\ 1460 52 8\\ 1480 47 7\\ 1500 56 8\\ 1520 50 7\\
1540 45 8\\ 1560 55 7\\ 1580 49 8\\ 1600 60 9\\ 1620 44 7\\ 1640 53 8\\ 1660 48 7\\ 1680 57 8\\ 1700 51 7\\ 1720 46 8\\
1740 55 7\\ 1760 50 8\\ 1780 44 9\\ 1800 54 7\\ 1820 48 8\\ 1840 58 9\\ 1860 43 7\\ 1880 52 8\\ 1900 47 7\\ 1920 66 12\\
1926 33 10\\ 1935 56 8\\ 1950 50 7\\ 1965 45 8\\ 1980 55 7\\ 2000 49 8\\ 2020 60 9\\ 2040 44 7\\ 2060 53 8\\ 2080 48 7\\
2100 57 8\\ 2120 51 7\\ 2140 46 8\\ 2160 55 7\\ 2180 50 8\\ 2200 54 7\\ 2215 52 8\\
};
\labR{J1041$-$1942}{0.01}
\mjd
\end{axis}
\end{tikzpicture}
\end{document}
